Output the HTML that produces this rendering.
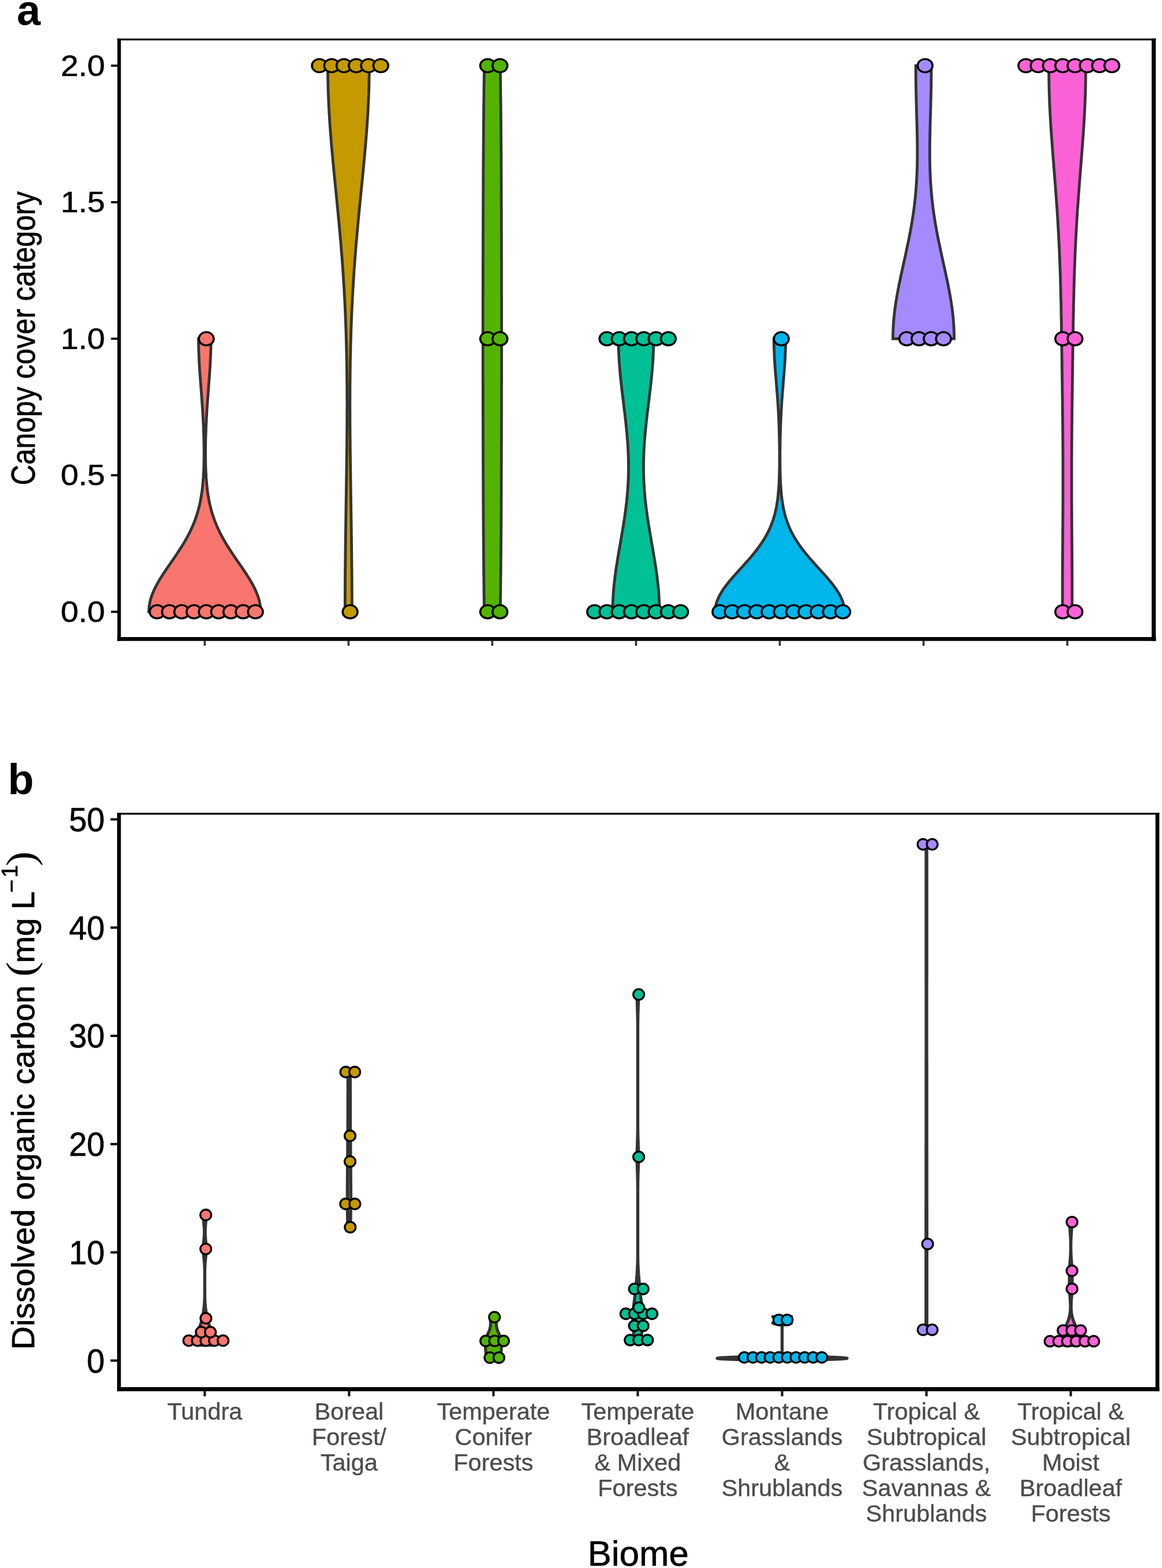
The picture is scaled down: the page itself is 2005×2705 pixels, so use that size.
<!DOCTYPE html>
<html lang="en"><head><meta charset="utf-8"><title>Canopy cover and dissolved organic carbon by biome</title>
<style>html,body{margin:0;padding:0;background:#fff}svg{display:block}</style></head>
<body><svg width="2005" height="2705" viewBox="0 0 2005 2705">
<rect width="2005" height="2705" fill="#fff"/>
<g id="violins-a" stroke="#333333" stroke-width="4.8" stroke-linejoin="miter">
<path d="M256.8 1055.4L256.9 1053.0L257.0 1050.7L257.2 1048.3L257.4 1045.9L257.8 1043.6L258.2 1041.2L258.7 1038.8L259.2 1036.5L259.8 1034.1L260.5 1031.7L261.3 1029.4L262.1 1027.0L263.0 1024.6L264.0 1022.3L265.0 1019.9L266.0 1017.5L267.2 1015.2L268.3 1012.8L269.6 1010.4L270.8 1008.1L272.1 1005.7L273.5 1003.3L274.9 1001.0L276.3 998.6L277.8 996.2L279.3 993.9L280.8 991.5L282.3 989.1L283.9 986.8L285.5 984.4L287.1 982.0L288.7 979.7L290.3 977.3L292.0 974.9L293.6 972.6L295.2 970.2L296.9 967.8L298.5 965.5L300.1 963.1L301.7 960.7L303.4 958.3L304.9 956.0L306.5 953.6L308.1 951.2L309.6 948.9L311.2 946.5L312.7 944.1L314.2 941.8L315.6 939.4L317.1 937.0L318.5 934.7L319.8 932.3L321.2 929.9L322.5 927.6L323.8 925.2L325.0 922.8L326.3 920.5L327.5 918.1L328.6 915.7L329.7 913.4L330.8 911.0L331.9 908.6L332.9 906.3L333.9 903.9L334.8 901.5L335.8 899.2L336.7 896.8L337.5 894.4L338.3 892.1L339.1 889.7L339.9 887.3L340.6 885.0L341.3 882.6L342.0 880.2L342.6 877.9L343.2 875.5L343.8 873.1L344.4 870.8L344.9 868.4L345.4 866.0L345.9 863.7L346.3 861.3L346.7 858.9L347.2 856.6L347.5 854.2L347.9 851.8L348.2 849.5L348.6 847.1L348.9 844.7L349.2 842.4L349.4 840.0L349.7 837.6L349.9 835.3L350.1 832.9L350.3 830.5L350.5 828.2L350.7 825.8L350.9 823.4L351.0 821.1L351.1 818.7L351.3 816.3L351.4 814.0L351.5 811.6L351.6 809.2L351.7 806.9L351.8 804.5L351.8 802.1L351.9 799.8L351.9 797.4L352.0 795.0L352.0 792.7L352.0 790.3L352.1 787.9L352.1 785.6L352.1 783.2L352.1 780.8L352.1 778.5L352.1 776.1L352.0 773.7L352.0 771.3L352.0 769.0L352.0 766.6L351.9 764.2L351.9 761.9L351.8 759.5L351.8 757.1L351.7 754.8L351.7 752.4L351.6 750.0L351.5 747.7L351.4 745.3L351.3 742.9L351.3 740.6L351.2 738.2L351.1 735.8L351.0 733.5L350.9 731.1L350.7 728.7L350.6 726.4L350.5 724.0L350.4 721.6L350.3 719.3L350.1 716.9L350.0 714.5L349.9 712.2L349.7 709.8L349.6 707.4L349.4 705.1L349.3 702.7L349.1 700.3L348.9 698.0L348.8 695.6L348.6 693.2L348.4 690.9L348.3 688.5L348.1 686.1L347.9 683.8L347.7 681.4L347.6 679.0L347.4 676.7L347.2 674.3L347.0 671.9L346.8 669.6L346.7 667.2L346.5 664.8L346.3 662.5L346.1 660.1L345.9 657.7L345.8 655.4L345.6 653.0L345.4 650.6L345.2 648.3L345.1 645.9L344.9 643.5L344.7 641.2L344.6 638.8L344.4 636.4L344.3 634.1L344.1 631.7L344.0 629.3L343.9 627.0L343.7 624.6L343.6 622.2L343.5 619.9L343.4 617.5L343.3 615.1L343.2 612.8L343.1 610.4L343.0 608.0L342.9 605.7L342.8 603.3L342.8 600.9L342.7 598.6L342.7 596.2L342.6 593.8L342.6 591.5L342.6 589.1L342.6 586.7L342.6 584.4L364.0 584.4L364.0 586.7L364.0 589.1L364.0 591.5L364.0 593.8L363.9 596.2L363.9 598.6L363.8 600.9L363.8 603.3L363.7 605.7L363.6 608.0L363.5 610.4L363.4 612.8L363.3 615.1L363.2 617.5L363.1 619.9L363.0 622.2L362.9 624.6L362.7 627.0L362.6 629.3L362.5 631.7L362.3 634.1L362.2 636.4L362.0 638.8L361.9 641.2L361.7 643.5L361.5 645.9L361.4 648.3L361.2 650.6L361.0 653.0L360.8 655.4L360.7 657.7L360.5 660.1L360.3 662.5L360.1 664.8L359.9 667.2L359.8 669.6L359.6 671.9L359.4 674.3L359.2 676.7L359.0 679.0L358.9 681.4L358.7 683.8L358.5 686.1L358.3 688.5L358.2 690.9L358.0 693.2L357.8 695.6L357.7 698.0L357.5 700.3L357.3 702.7L357.2 705.1L357.0 707.4L356.9 709.8L356.7 712.2L356.6 714.5L356.5 716.9L356.3 719.3L356.2 721.6L356.1 724.0L356.0 726.4L355.9 728.7L355.7 731.1L355.6 733.5L355.5 735.8L355.4 738.2L355.3 740.6L355.3 742.9L355.2 745.3L355.1 747.7L355.0 750.0L354.9 752.4L354.9 754.8L354.8 757.1L354.8 759.5L354.7 761.9L354.7 764.2L354.6 766.6L354.6 769.0L354.6 771.3L354.6 773.7L354.5 776.1L354.5 778.5L354.5 780.8L354.5 783.2L354.5 785.6L354.5 787.9L354.6 790.3L354.6 792.7L354.6 795.0L354.7 797.4L354.7 799.8L354.8 802.1L354.8 804.5L354.9 806.9L355.0 809.2L355.1 811.6L355.2 814.0L355.3 816.3L355.5 818.7L355.6 821.1L355.7 823.4L355.9 825.8L356.1 828.2L356.3 830.5L356.5 832.9L356.7 835.3L356.9 837.6L357.2 840.0L357.4 842.4L357.7 844.7L358.0 847.1L358.4 849.5L358.7 851.8L359.1 854.2L359.4 856.6L359.9 858.9L360.3 861.3L360.7 863.7L361.2 866.0L361.7 868.4L362.2 870.8L362.8 873.1L363.4 875.5L364.0 877.9L364.6 880.2L365.3 882.6L366.0 885.0L366.7 887.3L367.5 889.7L368.3 892.1L369.1 894.4L369.9 896.8L370.8 899.2L371.8 901.5L372.7 903.9L373.7 906.3L374.7 908.6L375.8 911.0L376.9 913.4L378.0 915.7L379.1 918.1L380.3 920.5L381.6 922.8L382.8 925.2L384.1 927.6L385.4 929.9L386.8 932.3L388.1 934.7L389.5 937.0L391.0 939.4L392.4 941.8L393.9 944.1L395.4 946.5L397.0 948.9L398.5 951.2L400.1 953.6L401.7 956.0L403.2 958.3L404.9 960.7L406.5 963.1L408.1 965.5L409.7 967.8L411.4 970.2L413.0 972.6L414.6 974.9L416.3 977.3L417.9 979.7L419.5 982.0L421.1 984.4L422.7 986.8L424.3 989.1L425.8 991.5L427.3 993.9L428.8 996.2L430.3 998.6L431.7 1001.0L433.1 1003.3L434.5 1005.7L435.8 1008.1L437.0 1010.4L438.3 1012.8L439.4 1015.2L440.6 1017.5L441.6 1019.9L442.6 1022.3L443.6 1024.6L444.5 1027.0L445.3 1029.4L446.1 1031.7L446.8 1034.1L447.4 1036.5L447.9 1038.8L448.4 1041.2L448.8 1043.6L449.2 1045.9L449.4 1048.3L449.6 1050.7L449.7 1053.0L449.8 1055.4Z" fill="#F8766D"/>
<path d="M595.4 1055.4L595.4 1050.7L595.4 1045.9L595.4 1041.2L595.4 1036.5L595.4 1031.7L595.4 1027.0L595.4 1022.3L595.5 1017.5L595.5 1012.8L595.5 1008.1L595.5 1003.3L595.6 998.6L595.6 993.9L595.6 989.1L595.7 984.4L595.7 979.7L595.8 974.9L595.8 970.2L595.9 965.5L595.9 960.7L596.0 956.0L596.0 951.2L596.1 946.5L596.1 941.8L596.2 937.0L596.2 932.3L596.3 927.6L596.4 922.8L596.4 918.1L596.5 913.4L596.6 908.6L596.6 903.9L596.7 899.2L596.8 894.4L596.8 889.7L596.9 885.0L597.0 880.2L597.0 875.5L597.1 870.8L597.2 866.0L597.3 861.3L597.3 856.6L597.4 851.8L597.5 847.1L597.5 842.4L597.6 837.6L597.7 832.9L597.7 828.2L597.8 823.4L597.9 818.7L597.9 814.0L598.0 809.2L598.1 804.5L598.1 799.8L598.2 795.0L598.2 790.3L598.3 785.6L598.4 780.8L598.4 776.1L598.5 771.3L598.5 766.6L598.5 761.9L598.6 757.1L598.6 752.4L598.7 747.7L598.7 742.9L598.7 738.2L598.8 733.5L598.8 728.7L598.8 724.0L598.8 719.3L598.8 714.5L598.8 709.8L598.9 705.1L598.9 700.3L598.9 695.6L598.9 690.9L598.8 686.1L598.8 681.4L598.8 676.7L598.8 671.9L598.8 667.2L598.7 662.5L598.7 657.7L598.6 653.0L598.6 648.3L598.5 643.5L598.5 638.8L598.4 634.1L598.4 629.3L598.3 624.6L598.2 619.9L598.1 615.1L598.0 610.4L597.9 605.7L597.8 600.9L597.7 596.2L597.6 591.5L597.4 586.7L597.3 582.0L597.2 577.2L597.0 572.5L596.9 567.8L596.7 563.0L596.5 558.3L596.4 553.6L596.2 548.8L596.0 544.1L595.8 539.4L595.6 534.6L595.3 529.9L595.1 525.2L594.9 520.4L594.7 515.7L594.4 511.0L594.1 506.2L593.9 501.5L593.6 496.8L593.3 492.0L593.0 487.3L592.7 482.6L592.4 477.8L592.1 473.1L591.8 468.4L591.5 463.6L591.1 458.9L590.8 454.2L590.4 449.4L590.1 444.7L589.7 440.0L589.3 435.2L588.9 430.5L588.6 425.8L588.2 421.0L587.8 416.3L587.3 411.6L586.9 406.8L586.5 402.1L586.1 397.4L585.6 392.6L585.2 387.9L584.8 383.1L584.3 378.4L583.9 373.7L583.4 368.9L583.0 364.2L582.5 359.5L582.0 354.7L581.6 350.0L581.1 345.3L580.6 340.5L580.2 335.8L579.7 331.1L579.2 326.3L578.7 321.6L578.3 316.9L577.8 312.1L577.3 307.4L576.9 302.7L576.4 297.9L575.9 293.2L575.5 288.5L575.0 283.7L574.6 279.0L574.2 274.3L573.7 269.5L573.3 264.8L572.9 260.1L572.4 255.3L572.0 250.6L571.6 245.9L571.3 241.1L570.9 236.4L570.5 231.7L570.1 226.9L569.8 222.2L569.4 217.5L569.1 212.7L568.8 208.0L568.5 203.2L568.2 198.5L567.9 193.8L567.7 189.0L567.4 184.3L567.2 179.6L567.0 174.8L566.8 170.1L566.6 165.4L566.4 160.6L566.2 155.9L566.1 151.2L566.0 146.4L565.9 141.7L565.8 137.0L565.7 132.2L565.6 127.5L565.6 122.8L565.6 118.0L565.6 113.3L637.1 113.3L637.1 118.0L637.1 122.8L637.1 127.5L637.0 132.2L636.9 137.0L636.8 141.7L636.7 146.4L636.6 151.2L636.5 155.9L636.3 160.6L636.1 165.4L635.9 170.1L635.7 174.8L635.5 179.6L635.3 184.3L635.0 189.0L634.8 193.8L634.5 198.5L634.2 203.2L633.9 208.0L633.6 212.7L633.3 217.5L632.9 222.2L632.6 226.9L632.2 231.7L631.8 236.4L631.4 241.1L631.1 245.9L630.7 250.6L630.3 255.3L629.8 260.1L629.4 264.8L629.0 269.5L628.5 274.3L628.1 279.0L627.7 283.7L627.2 288.5L626.8 293.2L626.3 297.9L625.8 302.7L625.4 307.4L624.9 312.1L624.4 316.9L624.0 321.6L623.5 326.3L623.0 331.1L622.5 335.8L622.1 340.5L621.6 345.3L621.1 350.0L620.7 354.7L620.2 359.5L619.7 364.2L619.3 368.9L618.8 373.7L618.4 378.4L617.9 383.1L617.5 387.9L617.1 392.6L616.6 397.4L616.2 402.1L615.8 406.8L615.4 411.6L614.9 416.3L614.5 421.0L614.1 425.8L613.8 430.5L613.4 435.2L613.0 440.0L612.6 444.7L612.3 449.4L611.9 454.2L611.6 458.9L611.2 463.6L610.9 468.4L610.6 473.1L610.3 477.8L610.0 482.6L609.7 487.3L609.4 492.0L609.1 496.8L608.8 501.5L608.6 506.2L608.3 511.0L608.0 515.7L607.8 520.4L607.6 525.2L607.4 529.9L607.1 534.6L606.9 539.4L606.7 544.1L606.5 548.8L606.3 553.6L606.2 558.3L606.0 563.0L605.8 567.8L605.7 572.5L605.5 577.2L605.4 582.0L605.3 586.7L605.1 591.5L605.0 596.2L604.9 600.9L604.8 605.7L604.7 610.4L604.6 615.1L604.5 619.9L604.4 624.6L604.3 629.3L604.3 634.1L604.2 638.8L604.2 643.5L604.1 648.3L604.1 653.0L604.0 657.7L604.0 662.5L603.9 667.2L603.9 671.9L603.9 676.7L603.9 681.4L603.9 686.1L603.8 690.9L603.8 695.6L603.8 700.3L603.8 705.1L603.9 709.8L603.9 714.5L603.9 719.3L603.9 724.0L603.9 728.7L603.9 733.5L604.0 738.2L604.0 742.9L604.0 747.7L604.1 752.4L604.1 757.1L604.2 761.9L604.2 766.6L604.2 771.3L604.3 776.1L604.3 780.8L604.4 785.6L604.5 790.3L604.5 795.0L604.6 799.8L604.6 804.5L604.7 809.2L604.8 814.0L604.8 818.7L604.9 823.4L605.0 828.2L605.0 832.9L605.1 837.6L605.2 842.4L605.2 847.1L605.3 851.8L605.4 856.6L605.4 861.3L605.5 866.0L605.6 870.8L605.7 875.5L605.7 880.2L605.8 885.0L605.9 889.7L605.9 894.4L606.0 899.2L606.1 903.9L606.1 908.6L606.2 913.4L606.3 918.1L606.3 922.8L606.4 927.6L606.5 932.3L606.5 937.0L606.6 941.8L606.6 946.5L606.7 951.2L606.7 956.0L606.8 960.7L606.8 965.5L606.9 970.2L606.9 974.9L607.0 979.7L607.0 984.4L607.1 989.1L607.1 993.9L607.1 998.6L607.2 1003.3L607.2 1008.1L607.2 1012.8L607.2 1017.5L607.3 1022.3L607.3 1027.0L607.3 1031.7L607.3 1036.5L607.3 1041.2L607.3 1045.9L607.3 1050.7L607.3 1055.4Z" fill="#C49A00"/>
<path d="M835.6 1055.4L835.6 1050.7L835.5 1045.9L835.4 1041.2L835.3 1036.5L835.3 1031.7L835.2 1027.0L835.1 1022.3L835.1 1017.5L835.0 1012.8L835.0 1008.1L834.9 1003.3L834.9 998.6L834.8 993.9L834.7 989.1L834.7 984.4L834.6 979.7L834.6 974.9L834.6 970.2L834.5 965.5L834.5 960.7L834.4 956.0L834.4 951.2L834.4 946.5L834.3 941.8L834.3 937.0L834.3 932.3L834.2 927.6L834.2 922.8L834.2 918.1L834.1 913.4L834.1 908.6L834.1 903.9L834.0 899.2L834.0 894.4L834.0 889.7L834.0 885.0L833.9 880.2L833.9 875.5L833.9 870.8L833.9 866.0L833.9 861.3L833.8 856.6L833.8 851.8L833.8 847.1L833.8 842.4L833.8 837.6L833.8 832.9L833.7 828.2L833.7 823.4L833.7 818.7L833.7 814.0L833.7 809.2L833.7 804.5L833.6 799.8L833.6 795.0L833.6 790.3L833.6 785.6L833.6 780.8L833.6 776.1L833.6 771.3L833.6 766.6L833.5 761.9L833.5 757.1L833.5 752.4L833.5 747.7L833.5 742.9L833.5 738.2L833.5 733.5L833.5 728.7L833.5 724.0L833.4 719.3L833.4 714.5L833.4 709.8L833.4 705.1L833.4 700.3L833.4 695.6L833.4 690.9L833.4 686.1L833.4 681.4L833.4 676.7L833.4 671.9L833.4 667.2L833.4 662.5L833.3 657.7L833.3 653.0L833.3 648.3L833.3 643.5L833.3 638.8L833.3 634.1L833.3 629.3L833.3 624.6L833.3 619.9L833.3 615.1L833.3 610.4L833.3 605.7L833.3 600.9L833.3 596.2L833.3 591.5L833.3 586.7L833.3 582.0L833.3 577.2L833.3 572.5L833.3 567.8L833.3 563.0L833.3 558.3L833.3 553.6L833.3 548.8L833.3 544.1L833.3 539.4L833.3 534.6L833.3 529.9L833.3 525.2L833.3 520.4L833.3 515.7L833.3 511.0L833.4 506.2L833.4 501.5L833.4 496.8L833.4 492.0L833.4 487.3L833.4 482.6L833.4 477.8L833.4 473.1L833.4 468.4L833.4 463.6L833.4 458.9L833.4 454.2L833.4 449.4L833.5 444.7L833.5 440.0L833.5 435.2L833.5 430.5L833.5 425.8L833.5 421.0L833.5 416.3L833.5 411.6L833.5 406.8L833.6 402.1L833.6 397.4L833.6 392.6L833.6 387.9L833.6 383.1L833.6 378.4L833.6 373.7L833.6 368.9L833.7 364.2L833.7 359.5L833.7 354.7L833.7 350.0L833.7 345.3L833.7 340.5L833.8 335.8L833.8 331.1L833.8 326.3L833.8 321.6L833.8 316.9L833.8 312.1L833.9 307.4L833.9 302.7L833.9 297.9L833.9 293.2L833.9 288.5L834.0 283.7L834.0 279.0L834.0 274.3L834.0 269.5L834.1 264.8L834.1 260.1L834.1 255.3L834.2 250.6L834.2 245.9L834.2 241.1L834.3 236.4L834.3 231.7L834.3 226.9L834.4 222.2L834.4 217.5L834.4 212.7L834.5 208.0L834.5 203.2L834.6 198.5L834.6 193.8L834.6 189.0L834.7 184.3L834.7 179.6L834.8 174.8L834.9 170.1L834.9 165.4L835.0 160.6L835.0 155.9L835.1 151.2L835.1 146.4L835.2 141.7L835.3 137.0L835.3 132.2L835.4 127.5L835.5 122.8L835.6 118.0L835.6 113.3L863.2 113.3L863.2 118.0L863.3 122.8L863.4 127.5L863.5 132.2L863.5 137.0L863.6 141.7L863.7 146.4L863.7 151.2L863.8 155.9L863.8 160.6L863.9 165.4L863.9 170.1L864.0 174.8L864.1 179.6L864.1 184.3L864.2 189.0L864.2 193.8L864.2 198.5L864.3 203.2L864.3 208.0L864.4 212.7L864.4 217.5L864.4 222.2L864.5 226.9L864.5 231.7L864.5 236.4L864.6 241.1L864.6 245.9L864.6 250.6L864.7 255.3L864.7 260.1L864.7 264.8L864.8 269.5L864.8 274.3L864.8 279.0L864.8 283.7L864.9 288.5L864.9 293.2L864.9 297.9L864.9 302.7L864.9 307.4L865.0 312.1L865.0 316.9L865.0 321.6L865.0 326.3L865.0 331.1L865.0 335.8L865.1 340.5L865.1 345.3L865.1 350.0L865.1 354.7L865.1 359.5L865.1 364.2L865.2 368.9L865.2 373.7L865.2 378.4L865.2 383.1L865.2 387.9L865.2 392.6L865.2 397.4L865.2 402.1L865.3 406.8L865.3 411.6L865.3 416.3L865.3 421.0L865.3 425.8L865.3 430.5L865.3 435.2L865.3 440.0L865.3 444.7L865.4 449.4L865.4 454.2L865.4 458.9L865.4 463.6L865.4 468.4L865.4 473.1L865.4 477.8L865.4 482.6L865.4 487.3L865.4 492.0L865.4 496.8L865.4 501.5L865.4 506.2L865.5 511.0L865.5 515.7L865.5 520.4L865.5 525.2L865.5 529.9L865.5 534.6L865.5 539.4L865.5 544.1L865.5 548.8L865.5 553.6L865.5 558.3L865.5 563.0L865.5 567.8L865.5 572.5L865.5 577.2L865.5 582.0L865.5 586.7L865.5 591.5L865.5 596.2L865.5 600.9L865.5 605.7L865.5 610.4L865.5 615.1L865.5 619.9L865.5 624.6L865.5 629.3L865.5 634.1L865.5 638.8L865.5 643.5L865.5 648.3L865.5 653.0L865.5 657.7L865.4 662.5L865.4 667.2L865.4 671.9L865.4 676.7L865.4 681.4L865.4 686.1L865.4 690.9L865.4 695.6L865.4 700.3L865.4 705.1L865.4 709.8L865.4 714.5L865.4 719.3L865.3 724.0L865.3 728.7L865.3 733.5L865.3 738.2L865.3 742.9L865.3 747.7L865.3 752.4L865.3 757.1L865.3 761.9L865.2 766.6L865.2 771.3L865.2 776.1L865.2 780.8L865.2 785.6L865.2 790.3L865.2 795.0L865.2 799.8L865.1 804.5L865.1 809.2L865.1 814.0L865.1 818.7L865.1 823.4L865.1 828.2L865.0 832.9L865.0 837.6L865.0 842.4L865.0 847.1L865.0 851.8L865.0 856.6L864.9 861.3L864.9 866.0L864.9 870.8L864.9 875.5L864.9 880.2L864.8 885.0L864.8 889.7L864.8 894.4L864.8 899.2L864.7 903.9L864.7 908.6L864.7 913.4L864.6 918.1L864.6 922.8L864.6 927.6L864.5 932.3L864.5 937.0L864.5 941.8L864.4 946.5L864.4 951.2L864.4 956.0L864.3 960.7L864.3 965.5L864.2 970.2L864.2 974.9L864.2 979.7L864.1 984.4L864.1 989.1L864.0 993.9L863.9 998.6L863.9 1003.3L863.8 1008.1L863.8 1012.8L863.7 1017.5L863.7 1022.3L863.6 1027.0L863.5 1031.7L863.5 1036.5L863.4 1041.2L863.3 1045.9L863.2 1050.7L863.2 1055.4Z" fill="#53B400"/>
<path d="M1057.1 1055.4L1057.1 1053.0L1057.1 1050.7L1057.1 1048.3L1057.2 1045.9L1057.2 1043.6L1057.3 1041.2L1057.4 1038.8L1057.5 1036.5L1057.6 1034.1L1057.7 1031.7L1057.9 1029.4L1058.0 1027.0L1058.2 1024.6L1058.3 1022.3L1058.5 1019.9L1058.7 1017.5L1058.9 1015.2L1059.2 1012.8L1059.4 1010.4L1059.6 1008.1L1059.9 1005.7L1060.1 1003.3L1060.4 1001.0L1060.7 998.6L1061.0 996.2L1061.3 993.9L1061.6 991.5L1061.9 989.1L1062.3 986.8L1062.6 984.4L1062.9 982.0L1063.3 979.7L1063.6 977.3L1064.0 974.9L1064.4 972.6L1064.7 970.2L1065.1 967.8L1065.5 965.5L1065.9 963.1L1066.3 960.7L1066.7 958.3L1067.1 956.0L1067.5 953.6L1067.9 951.2L1068.3 948.9L1068.7 946.5L1069.1 944.1L1069.5 941.8L1070.0 939.4L1070.4 937.0L1070.8 934.7L1071.2 932.3L1071.6 929.9L1072.0 927.6L1072.4 925.2L1072.8 922.8L1073.2 920.5L1073.6 918.1L1074.0 915.7L1074.4 913.4L1074.8 911.0L1075.2 908.6L1075.6 906.3L1076.0 903.9L1076.3 901.5L1076.7 899.2L1077.1 896.8L1077.4 894.4L1077.8 892.1L1078.1 889.7L1078.4 887.3L1078.8 885.0L1079.1 882.6L1079.4 880.2L1079.7 877.9L1080.0 875.5L1080.3 873.1L1080.6 870.8L1080.9 868.4L1081.1 866.0L1081.4 863.7L1081.6 861.3L1081.9 858.9L1082.1 856.6L1082.3 854.2L1082.5 851.8L1082.7 849.5L1082.9 847.1L1083.1 844.7L1083.2 842.4L1083.4 840.0L1083.5 837.6L1083.7 835.3L1083.8 832.9L1083.9 830.5L1084.0 828.2L1084.1 825.8L1084.2 823.4L1084.3 821.1L1084.3 818.7L1084.4 816.3L1084.4 814.0L1084.5 811.6L1084.5 809.2L1084.5 806.9L1084.5 804.5L1084.5 802.1L1084.5 799.8L1084.4 797.4L1084.4 795.0L1084.4 792.7L1084.3 790.3L1084.2 787.9L1084.1 785.6L1084.1 783.2L1084.0 780.8L1083.8 778.5L1083.7 776.1L1083.6 773.7L1083.5 771.3L1083.3 769.0L1083.2 766.6L1083.0 764.2L1082.9 761.9L1082.7 759.5L1082.5 757.1L1082.3 754.8L1082.1 752.4L1081.9 750.0L1081.7 747.7L1081.5 745.3L1081.2 742.9L1081.0 740.6L1080.8 738.2L1080.5 735.8L1080.3 733.5L1080.0 731.1L1079.8 728.7L1079.5 726.4L1079.3 724.0L1079.0 721.6L1078.7 719.3L1078.4 716.9L1078.2 714.5L1077.9 712.2L1077.6 709.8L1077.3 707.4L1077.0 705.1L1076.7 702.7L1076.4 700.3L1076.2 698.0L1075.9 695.6L1075.6 693.2L1075.3 690.9L1075.0 688.5L1074.7 686.1L1074.4 683.8L1074.1 681.4L1073.8 679.0L1073.6 676.7L1073.3 674.3L1073.0 671.9L1072.7 669.6L1072.5 667.2L1072.2 664.8L1071.9 662.5L1071.7 660.1L1071.4 657.7L1071.2 655.4L1070.9 653.0L1070.7 650.6L1070.5 648.3L1070.2 645.9L1070.0 643.5L1069.8 641.2L1069.6 638.8L1069.4 636.4L1069.2 634.1L1069.0 631.7L1068.8 629.3L1068.7 627.0L1068.5 624.6L1068.3 622.2L1068.2 619.9L1068.1 617.5L1067.9 615.1L1067.8 612.8L1067.7 610.4L1067.6 608.0L1067.5 605.7L1067.4 603.3L1067.4 600.9L1067.3 598.6L1067.3 596.2L1067.2 593.8L1067.2 591.5L1067.2 589.1L1067.1 586.7L1067.1 584.4L1127.8 584.4L1127.8 586.7L1127.7 589.1L1127.7 591.5L1127.7 593.8L1127.6 596.2L1127.6 598.6L1127.5 600.9L1127.5 603.3L1127.4 605.7L1127.3 608.0L1127.2 610.4L1127.1 612.8L1127.0 615.1L1126.8 617.5L1126.7 619.9L1126.6 622.2L1126.4 624.6L1126.2 627.0L1126.1 629.3L1125.9 631.7L1125.7 634.1L1125.5 636.4L1125.3 638.8L1125.1 641.2L1124.9 643.5L1124.7 645.9L1124.4 648.3L1124.2 650.6L1124.0 653.0L1123.7 655.4L1123.5 657.7L1123.2 660.1L1123.0 662.5L1122.7 664.8L1122.4 667.2L1122.2 669.6L1121.9 671.9L1121.6 674.3L1121.3 676.7L1121.1 679.0L1120.8 681.4L1120.5 683.8L1120.2 686.1L1119.9 688.5L1119.6 690.9L1119.3 693.2L1119.0 695.6L1118.7 698.0L1118.5 700.3L1118.2 702.7L1117.9 705.1L1117.6 707.4L1117.3 709.8L1117.0 712.2L1116.7 714.5L1116.5 716.9L1116.2 719.3L1115.9 721.6L1115.6 724.0L1115.4 726.4L1115.1 728.7L1114.9 731.1L1114.6 733.5L1114.4 735.8L1114.1 738.2L1113.9 740.6L1113.7 742.9L1113.4 745.3L1113.2 747.7L1113.0 750.0L1112.8 752.4L1112.6 754.8L1112.4 757.1L1112.2 759.5L1112.0 761.9L1111.9 764.2L1111.7 766.6L1111.6 769.0L1111.4 771.3L1111.3 773.7L1111.2 776.1L1111.1 778.5L1110.9 780.8L1110.8 783.2L1110.8 785.6L1110.7 787.9L1110.6 790.3L1110.5 792.7L1110.5 795.0L1110.5 797.4L1110.4 799.8L1110.4 802.1L1110.4 804.5L1110.4 806.9L1110.4 809.2L1110.4 811.6L1110.5 814.0L1110.5 816.3L1110.6 818.7L1110.6 821.1L1110.7 823.4L1110.8 825.8L1110.9 828.2L1111.0 830.5L1111.1 832.9L1111.2 835.3L1111.4 837.6L1111.5 840.0L1111.7 842.4L1111.8 844.7L1112.0 847.1L1112.2 849.5L1112.4 851.8L1112.6 854.2L1112.8 856.6L1113.0 858.9L1113.3 861.3L1113.5 863.7L1113.8 866.0L1114.0 868.4L1114.3 870.8L1114.6 873.1L1114.9 875.5L1115.2 877.9L1115.5 880.2L1115.8 882.6L1116.1 885.0L1116.5 887.3L1116.8 889.7L1117.1 892.1L1117.5 894.4L1117.8 896.8L1118.2 899.2L1118.6 901.5L1118.9 903.9L1119.3 906.3L1119.7 908.6L1120.1 911.0L1120.5 913.4L1120.9 915.7L1121.3 918.1L1121.7 920.5L1122.1 922.8L1122.5 925.2L1122.9 927.6L1123.3 929.9L1123.7 932.3L1124.1 934.7L1124.5 937.0L1124.9 939.4L1125.4 941.8L1125.8 944.1L1126.2 946.5L1126.6 948.9L1127.0 951.2L1127.4 953.6L1127.8 956.0L1128.2 958.3L1128.6 960.7L1129.0 963.1L1129.4 965.5L1129.8 967.8L1130.2 970.2L1130.5 972.6L1130.9 974.9L1131.3 977.3L1131.6 979.7L1132.0 982.0L1132.3 984.4L1132.6 986.8L1133.0 989.1L1133.3 991.5L1133.6 993.9L1133.9 996.2L1134.2 998.6L1134.5 1001.0L1134.8 1003.3L1135.0 1005.7L1135.3 1008.1L1135.5 1010.4L1135.7 1012.8L1136.0 1015.2L1136.2 1017.5L1136.4 1019.9L1136.6 1022.3L1136.7 1024.6L1136.9 1027.0L1137.0 1029.4L1137.2 1031.7L1137.3 1034.1L1137.4 1036.5L1137.5 1038.8L1137.6 1041.2L1137.7 1043.6L1137.7 1045.9L1137.8 1048.3L1137.8 1050.7L1137.8 1053.0L1137.8 1055.4Z" fill="#00C094"/>
<path d="M1233.9 1055.4L1233.9 1053.0L1234.1 1050.7L1234.4 1048.3L1234.8 1045.9L1235.3 1043.6L1235.9 1041.2L1236.6 1038.8L1237.4 1036.5L1238.4 1034.1L1239.4 1031.7L1240.5 1029.4L1241.7 1027.0L1243.0 1024.6L1244.4 1022.3L1245.9 1019.9L1247.4 1017.5L1249.0 1015.2L1250.7 1012.8L1252.5 1010.4L1254.3 1008.1L1256.2 1005.7L1258.1 1003.3L1260.1 1001.0L1262.1 998.6L1264.1 996.2L1266.2 993.9L1268.3 991.5L1270.4 989.1L1272.5 986.8L1274.7 984.4L1276.8 982.0L1279.0 979.7L1281.1 977.3L1283.3 974.9L1285.4 972.6L1287.5 970.2L1289.6 967.8L1291.7 965.5L1293.8 963.1L1295.8 960.7L1297.8 958.3L1299.7 956.0L1301.7 953.6L1303.5 951.2L1305.4 948.9L1307.2 946.5L1308.9 944.1L1310.7 941.8L1312.3 939.4L1313.9 937.0L1315.5 934.7L1317.0 932.3L1318.5 929.9L1319.9 927.6L1321.3 925.2L1322.6 922.8L1323.9 920.5L1325.1 918.1L1326.3 915.7L1327.4 913.4L1328.5 911.0L1329.5 908.6L1330.5 906.3L1331.4 903.9L1332.3 901.5L1333.1 899.2L1334.0 896.8L1334.7 894.4L1335.4 892.1L1336.1 889.7L1336.8 887.3L1337.4 885.0L1337.9 882.6L1338.5 880.2L1339.0 877.9L1339.5 875.5L1339.9 873.1L1340.3 870.8L1340.7 868.4L1341.1 866.0L1341.4 863.7L1341.8 861.3L1342.1 858.9L1342.3 856.6L1342.6 854.2L1342.8 851.8L1343.0 849.5L1343.3 847.1L1343.4 844.7L1343.6 842.4L1343.8 840.0L1343.9 837.6L1344.1 835.3L1344.2 832.9L1344.3 830.5L1344.4 828.2L1344.5 825.8L1344.6 823.4L1344.6 821.1L1344.7 818.7L1344.8 816.3L1344.8 814.0L1344.9 811.6L1344.9 809.2L1345.0 806.9L1345.0 804.5L1345.0 802.1L1345.0 799.8L1345.1 797.4L1345.1 795.0L1345.1 792.7L1345.1 790.3L1345.1 787.9L1345.1 785.6L1345.1 783.2L1345.1 780.8L1345.1 778.5L1345.0 776.1L1345.0 773.7L1345.0 771.3L1345.0 769.0L1344.9 766.6L1344.9 764.2L1344.9 761.9L1344.8 759.5L1344.8 757.1L1344.7 754.8L1344.7 752.4L1344.6 750.0L1344.6 747.7L1344.5 745.3L1344.4 742.9L1344.4 740.6L1344.3 738.2L1344.2 735.8L1344.1 733.5L1344.0 731.1L1343.9 728.7L1343.8 726.4L1343.7 724.0L1343.6 721.6L1343.5 719.3L1343.4 716.9L1343.3 714.5L1343.2 712.2L1343.0 709.8L1342.9 707.4L1342.8 705.1L1342.6 702.7L1342.5 700.3L1342.3 698.0L1342.2 695.6L1342.0 693.2L1341.9 690.9L1341.7 688.5L1341.5 686.1L1341.3 683.8L1341.2 681.4L1341.0 679.0L1340.8 676.7L1340.6 674.3L1340.4 671.9L1340.2 669.6L1340.0 667.2L1339.8 664.8L1339.6 662.5L1339.5 660.1L1339.3 657.7L1339.1 655.4L1338.9 653.0L1338.7 650.6L1338.5 648.3L1338.3 645.9L1338.1 643.5L1337.9 641.2L1337.7 638.8L1337.6 636.4L1337.4 634.1L1337.2 631.7L1337.0 629.3L1336.9 627.0L1336.7 624.6L1336.6 622.2L1336.4 619.9L1336.3 617.5L1336.2 615.1L1336.1 612.8L1336.0 610.4L1335.9 608.0L1335.8 605.7L1335.7 603.3L1335.6 600.9L1335.5 598.6L1335.5 596.2L1335.4 593.8L1335.4 591.5L1335.4 589.1L1335.4 586.7L1335.4 584.4L1355.6 584.4L1355.6 586.7L1355.6 589.1L1355.6 591.5L1355.6 593.8L1355.5 596.2L1355.5 598.6L1355.4 600.9L1355.3 603.3L1355.2 605.7L1355.1 608.0L1355.0 610.4L1354.9 612.8L1354.8 615.1L1354.7 617.5L1354.6 619.9L1354.4 622.2L1354.3 624.6L1354.1 627.0L1354.0 629.3L1353.8 631.7L1353.6 634.1L1353.4 636.4L1353.3 638.8L1353.1 641.2L1352.9 643.5L1352.7 645.9L1352.5 648.3L1352.3 650.6L1352.1 653.0L1351.9 655.4L1351.7 657.7L1351.5 660.1L1351.4 662.5L1351.2 664.8L1351.0 667.2L1350.8 669.6L1350.6 671.9L1350.4 674.3L1350.2 676.7L1350.0 679.0L1349.8 681.4L1349.7 683.8L1349.5 686.1L1349.3 688.5L1349.1 690.9L1349.0 693.2L1348.8 695.6L1348.7 698.0L1348.5 700.3L1348.4 702.7L1348.2 705.1L1348.1 707.4L1348.0 709.8L1347.8 712.2L1347.7 714.5L1347.6 716.9L1347.5 719.3L1347.4 721.6L1347.3 724.0L1347.2 726.4L1347.1 728.7L1347.0 731.1L1346.9 733.5L1346.8 735.8L1346.7 738.2L1346.6 740.6L1346.6 742.9L1346.5 745.3L1346.4 747.7L1346.4 750.0L1346.3 752.4L1346.3 754.8L1346.2 757.1L1346.2 759.5L1346.1 761.9L1346.1 764.2L1346.1 766.6L1346.0 769.0L1346.0 771.3L1346.0 773.7L1346.0 776.1L1345.9 778.5L1345.9 780.8L1345.9 783.2L1345.9 785.6L1345.9 787.9L1345.9 790.3L1345.9 792.7L1345.9 795.0L1345.9 797.4L1346.0 799.8L1346.0 802.1L1346.0 804.5L1346.0 806.9L1346.1 809.2L1346.1 811.6L1346.2 814.0L1346.2 816.3L1346.3 818.7L1346.4 821.1L1346.4 823.4L1346.5 825.8L1346.6 828.2L1346.7 830.5L1346.8 832.9L1346.9 835.3L1347.1 837.6L1347.2 840.0L1347.4 842.4L1347.6 844.7L1347.7 847.1L1348.0 849.5L1348.2 851.8L1348.4 854.2L1348.7 856.6L1348.9 858.9L1349.2 861.3L1349.6 863.7L1349.9 866.0L1350.3 868.4L1350.7 870.8L1351.1 873.1L1351.5 875.5L1352.0 877.9L1352.5 880.2L1353.1 882.6L1353.6 885.0L1354.2 887.3L1354.9 889.7L1355.6 892.1L1356.3 894.4L1357.0 896.8L1357.9 899.2L1358.7 901.5L1359.6 903.9L1360.5 906.3L1361.5 908.6L1362.5 911.0L1363.6 913.4L1364.7 915.7L1365.9 918.1L1367.1 920.5L1368.4 922.8L1369.7 925.2L1371.1 927.6L1372.5 929.9L1374.0 932.3L1375.5 934.7L1377.1 937.0L1378.7 939.4L1380.3 941.8L1382.1 944.1L1383.8 946.5L1385.6 948.9L1387.5 951.2L1389.3 953.6L1391.3 956.0L1393.2 958.3L1395.2 960.7L1397.2 963.1L1399.3 965.5L1401.4 967.8L1403.5 970.2L1405.6 972.6L1407.7 974.9L1409.9 977.3L1412.0 979.7L1414.2 982.0L1416.3 984.4L1418.5 986.8L1420.6 989.1L1422.7 991.5L1424.8 993.9L1426.9 996.2L1428.9 998.6L1430.9 1001.0L1432.9 1003.3L1434.8 1005.7L1436.7 1008.1L1438.5 1010.4L1440.3 1012.8L1442.0 1015.2L1443.6 1017.5L1445.1 1019.9L1446.6 1022.3L1448.0 1024.6L1449.3 1027.0L1450.5 1029.4L1451.6 1031.7L1452.6 1034.1L1453.6 1036.5L1454.4 1038.8L1455.1 1041.2L1455.7 1043.6L1456.2 1045.9L1456.6 1048.3L1456.9 1050.7L1457.1 1053.0L1457.1 1055.4Z" fill="#00B6EB"/>
<path d="M1540.7 584.4L1540.7 582.0L1540.8 579.6L1540.8 577.2L1540.8 574.9L1540.9 572.5L1541.0 570.1L1541.1 567.8L1541.2 565.4L1541.3 563.0L1541.5 560.7L1541.6 558.3L1541.8 555.9L1542.0 553.6L1542.2 551.2L1542.4 548.8L1542.6 546.5L1542.9 544.1L1543.1 541.7L1543.4 539.4L1543.7 537.0L1544.0 534.6L1544.3 532.3L1544.6 529.9L1545.0 527.5L1545.3 525.2L1545.6 522.8L1546.0 520.4L1546.4 518.1L1546.8 515.7L1547.2 513.3L1547.6 511.0L1548.0 508.6L1548.4 506.2L1548.9 503.9L1549.3 501.5L1549.7 499.1L1550.2 496.8L1550.7 494.4L1551.1 492.0L1551.6 489.7L1552.1 487.3L1552.6 484.9L1553.1 482.6L1553.6 480.2L1554.1 477.8L1554.6 475.5L1555.1 473.1L1555.6 470.7L1556.1 468.4L1556.6 466.0L1557.2 463.6L1557.7 461.3L1558.2 458.9L1558.7 456.5L1559.2 454.2L1559.8 451.8L1560.3 449.4L1560.8 447.1L1561.3 444.7L1561.9 442.3L1562.4 440.0L1562.9 437.6L1563.4 435.2L1563.9 432.9L1564.4 430.5L1564.9 428.1L1565.4 425.8L1565.9 423.4L1566.4 421.0L1566.9 418.7L1567.4 416.3L1567.9 413.9L1568.4 411.6L1568.8 409.2L1569.3 406.8L1569.7 404.5L1570.2 402.1L1570.6 399.7L1571.1 397.4L1571.5 395.0L1571.9 392.6L1572.4 390.2L1572.8 387.9L1573.2 385.5L1573.6 383.1L1573.9 380.8L1574.3 378.4L1574.7 376.0L1575.1 373.7L1575.4 371.3L1575.8 368.9L1576.1 366.6L1576.4 364.2L1576.8 361.8L1577.1 359.5L1577.4 357.1L1577.7 354.7L1577.9 352.4L1578.2 350.0L1578.5 347.6L1578.8 345.3L1579.0 342.9L1579.3 340.5L1579.5 338.2L1579.7 335.8L1579.9 333.4L1580.1 331.1L1580.3 328.7L1580.5 326.3L1580.7 324.0L1580.9 321.6L1581.0 319.2L1581.2 316.9L1581.4 314.5L1581.5 312.1L1581.6 309.8L1581.8 307.4L1581.9 305.0L1582.0 302.7L1582.1 300.3L1582.2 297.9L1582.3 295.6L1582.4 293.2L1582.4 290.8L1582.5 288.5L1582.6 286.1L1582.6 283.7L1582.7 281.4L1582.7 279.0L1582.7 276.6L1582.8 274.3L1582.8 271.9L1582.8 269.5L1582.8 267.2L1582.8 264.8L1582.8 262.4L1582.8 260.1L1582.8 257.7L1582.8 255.3L1582.8 253.0L1582.8 250.6L1582.8 248.2L1582.7 245.9L1582.7 243.5L1582.7 241.1L1582.6 238.8L1582.6 236.4L1582.5 234.0L1582.5 231.7L1582.4 229.3L1582.4 226.9L1582.3 224.6L1582.3 222.2L1582.2 219.8L1582.2 217.5L1582.1 215.1L1582.0 212.7L1582.0 210.4L1581.9 208.0L1581.8 205.6L1581.8 203.2L1581.7 200.9L1581.6 198.5L1581.6 196.1L1581.5 193.8L1581.4 191.4L1581.4 189.0L1581.3 186.7L1581.2 184.3L1581.2 181.9L1581.1 179.6L1581.1 177.2L1581.0 174.8L1580.9 172.5L1580.9 170.1L1580.8 167.7L1580.8 165.4L1580.7 163.0L1580.7 160.6L1580.6 158.3L1580.6 155.9L1580.5 153.5L1580.5 151.2L1580.4 148.8L1580.4 146.4L1580.4 144.1L1580.3 141.7L1580.3 139.3L1580.3 137.0L1580.3 134.6L1580.2 132.2L1580.2 129.9L1580.2 127.5L1580.2 125.1L1580.2 122.8L1580.2 120.4L1580.2 118.0L1580.2 115.7L1580.2 113.3L1606.9 113.3L1606.9 115.7L1606.9 118.0L1606.9 120.4L1606.9 122.8L1606.9 125.1L1606.9 127.5L1606.9 129.9L1606.9 132.2L1606.8 134.6L1606.8 137.0L1606.8 139.3L1606.8 141.7L1606.7 144.1L1606.7 146.4L1606.7 148.8L1606.6 151.2L1606.6 153.5L1606.5 155.9L1606.5 158.3L1606.4 160.6L1606.4 163.0L1606.3 165.4L1606.3 167.7L1606.2 170.1L1606.2 172.5L1606.1 174.8L1606.0 177.2L1606.0 179.6L1605.9 181.9L1605.9 184.3L1605.8 186.7L1605.7 189.0L1605.7 191.4L1605.6 193.8L1605.5 196.1L1605.5 198.5L1605.4 200.9L1605.3 203.2L1605.3 205.6L1605.2 208.0L1605.1 210.4L1605.1 212.7L1605.0 215.1L1604.9 217.5L1604.9 219.8L1604.8 222.2L1604.8 224.6L1604.7 226.9L1604.7 229.3L1604.6 231.7L1604.6 234.0L1604.5 236.4L1604.5 238.8L1604.4 241.1L1604.4 243.5L1604.4 245.9L1604.3 248.2L1604.3 250.6L1604.3 253.0L1604.3 255.3L1604.3 257.7L1604.3 260.1L1604.3 262.4L1604.3 264.8L1604.3 267.2L1604.3 269.5L1604.3 271.9L1604.3 274.3L1604.4 276.6L1604.4 279.0L1604.4 281.4L1604.5 283.7L1604.5 286.1L1604.6 288.5L1604.7 290.8L1604.7 293.2L1604.8 295.6L1604.9 297.9L1605.0 300.3L1605.1 302.7L1605.2 305.0L1605.3 307.4L1605.5 309.8L1605.6 312.1L1605.7 314.5L1605.9 316.9L1606.1 319.2L1606.2 321.6L1606.4 324.0L1606.6 326.3L1606.8 328.7L1607.0 331.1L1607.2 333.4L1607.4 335.8L1607.6 338.2L1607.8 340.5L1608.1 342.9L1608.3 345.3L1608.6 347.6L1608.9 350.0L1609.2 352.4L1609.4 354.7L1609.7 357.1L1610.0 359.5L1610.3 361.8L1610.7 364.2L1611.0 366.6L1611.3 368.9L1611.7 371.3L1612.0 373.7L1612.4 376.0L1612.8 378.4L1613.2 380.8L1613.5 383.1L1613.9 385.5L1614.3 387.9L1614.7 390.2L1615.2 392.6L1615.6 395.0L1616.0 397.4L1616.5 399.7L1616.9 402.1L1617.4 404.5L1617.8 406.8L1618.3 409.2L1618.7 411.6L1619.2 413.9L1619.7 416.3L1620.2 418.7L1620.7 421.0L1621.2 423.4L1621.7 425.8L1622.2 428.1L1622.7 430.5L1623.2 432.9L1623.7 435.2L1624.2 437.6L1624.7 440.0L1625.2 442.3L1625.8 444.7L1626.3 447.1L1626.8 449.4L1627.3 451.8L1627.9 454.2L1628.4 456.5L1628.9 458.9L1629.4 461.3L1629.9 463.6L1630.5 466.0L1631.0 468.4L1631.5 470.7L1632.0 473.1L1632.5 475.5L1633.0 477.8L1633.5 480.2L1634.0 482.6L1634.5 484.9L1635.0 487.3L1635.5 489.7L1636.0 492.0L1636.4 494.4L1636.9 496.8L1637.4 499.1L1637.8 501.5L1638.2 503.9L1638.7 506.2L1639.1 508.6L1639.5 511.0L1639.9 513.3L1640.3 515.7L1640.7 518.1L1641.1 520.4L1641.5 522.8L1641.8 525.2L1642.1 527.5L1642.5 529.9L1642.8 532.3L1643.1 534.6L1643.4 537.0L1643.7 539.4L1644.0 541.7L1644.2 544.1L1644.5 546.5L1644.7 548.8L1644.9 551.2L1645.1 553.6L1645.3 555.9L1645.5 558.3L1645.6 560.7L1645.8 563.0L1645.9 565.4L1646.0 567.8L1646.1 570.1L1646.2 572.5L1646.3 574.9L1646.3 577.2L1646.3 579.6L1646.4 582.0L1646.4 584.4Z" fill="#A58AFF"/>
<path d="M1833.4 1055.4L1833.3 1050.7L1833.3 1045.9L1833.3 1041.2L1833.3 1036.5L1833.3 1031.7L1833.3 1027.0L1833.3 1022.3L1833.3 1017.5L1833.3 1012.8L1833.3 1008.1L1833.3 1003.3L1833.3 998.6L1833.3 993.9L1833.3 989.1L1833.4 984.4L1833.4 979.7L1833.4 974.9L1833.4 970.2L1833.5 965.5L1833.5 960.7L1833.5 956.0L1833.5 951.2L1833.6 946.5L1833.6 941.8L1833.6 937.0L1833.7 932.3L1833.7 927.6L1833.7 922.8L1833.8 918.1L1833.8 913.4L1833.8 908.6L1833.9 903.9L1833.9 899.2L1833.9 894.4L1833.9 889.7L1834.0 885.0L1834.0 880.2L1834.0 875.5L1834.0 870.8L1834.1 866.0L1834.1 861.3L1834.1 856.6L1834.1 851.8L1834.1 847.1L1834.1 842.4L1834.1 837.6L1834.1 832.9L1834.1 828.2L1834.1 823.4L1834.1 818.7L1834.1 814.0L1834.1 809.2L1834.1 804.5L1834.1 799.8L1834.1 795.0L1834.1 790.3L1834.0 785.6L1834.0 780.8L1834.0 776.1L1834.0 771.3L1833.9 766.6L1833.9 761.9L1833.9 757.1L1833.8 752.4L1833.8 747.7L1833.8 742.9L1833.7 738.2L1833.7 733.5L1833.6 728.7L1833.6 724.0L1833.5 719.3L1833.5 714.5L1833.4 709.8L1833.4 705.1L1833.3 700.3L1833.3 695.6L1833.2 690.9L1833.2 686.1L1833.1 681.4L1833.0 676.7L1833.0 671.9L1832.9 667.2L1832.9 662.5L1832.8 657.7L1832.7 653.0L1832.7 648.3L1832.6 643.5L1832.5 638.8L1832.5 634.1L1832.4 629.3L1832.4 624.6L1832.3 619.9L1832.2 615.1L1832.2 610.4L1832.1 605.7L1832.0 600.9L1832.0 596.2L1831.9 591.5L1831.8 586.7L1831.7 582.0L1831.7 577.2L1831.6 572.5L1831.5 567.8L1831.5 563.0L1831.4 558.3L1831.3 553.6L1831.2 548.8L1831.1 544.1L1831.0 539.4L1830.9 534.6L1830.9 529.9L1830.8 525.2L1830.7 520.4L1830.5 515.7L1830.4 511.0L1830.3 506.2L1830.2 501.5L1830.1 496.8L1830.0 492.0L1829.8 487.3L1829.7 482.6L1829.6 477.8L1829.4 473.1L1829.3 468.4L1829.1 463.6L1828.9 458.9L1828.7 454.2L1828.6 449.4L1828.4 444.7L1828.2 440.0L1828.0 435.2L1827.8 430.5L1827.6 425.8L1827.3 421.0L1827.1 416.3L1826.9 411.6L1826.6 406.8L1826.4 402.1L1826.1 397.4L1825.8 392.6L1825.6 387.9L1825.3 383.1L1825.0 378.4L1824.7 373.7L1824.4 368.9L1824.1 364.2L1823.8 359.5L1823.4 354.7L1823.1 350.0L1822.8 345.3L1822.4 340.5L1822.1 335.8L1821.7 331.1L1821.4 326.3L1821.0 321.6L1820.7 316.9L1820.3 312.1L1819.9 307.4L1819.6 302.7L1819.2 297.9L1818.8 293.2L1818.4 288.5L1818.1 283.7L1817.7 279.0L1817.3 274.3L1816.9 269.5L1816.6 264.8L1816.2 260.1L1815.9 255.3L1815.5 250.6L1815.2 245.9L1814.8 241.1L1814.5 236.4L1814.1 231.7L1813.8 226.9L1813.5 222.2L1813.2 217.5L1812.9 212.7L1812.6 208.0L1812.3 203.2L1812.1 198.5L1811.8 193.8L1811.6 189.0L1811.4 184.3L1811.1 179.6L1810.9 174.8L1810.8 170.1L1810.6 165.4L1810.4 160.6L1810.3 155.9L1810.2 151.2L1810.1 146.4L1810.0 141.7L1809.9 137.0L1809.9 132.2L1809.8 127.5L1809.8 122.8L1809.8 118.0L1809.8 113.3L1873.4 113.3L1873.4 118.0L1873.4 122.8L1873.4 127.5L1873.3 132.2L1873.3 137.0L1873.2 141.7L1873.1 146.4L1873.0 151.2L1872.9 155.9L1872.8 160.6L1872.6 165.4L1872.4 170.1L1872.3 174.8L1872.1 179.6L1871.8 184.3L1871.6 189.0L1871.4 193.8L1871.1 198.5L1870.9 203.2L1870.6 208.0L1870.3 212.7L1870.0 217.5L1869.7 222.2L1869.4 226.9L1869.1 231.7L1868.7 236.4L1868.4 241.1L1868.0 245.9L1867.7 250.6L1867.3 255.3L1867.0 260.1L1866.6 264.8L1866.3 269.5L1865.9 274.3L1865.5 279.0L1865.1 283.7L1864.8 288.5L1864.4 293.2L1864.0 297.9L1863.6 302.7L1863.3 307.4L1862.9 312.1L1862.5 316.9L1862.2 321.6L1861.8 326.3L1861.5 331.1L1861.1 335.8L1860.8 340.5L1860.4 345.3L1860.1 350.0L1859.8 354.7L1859.4 359.5L1859.1 364.2L1858.8 368.9L1858.5 373.7L1858.2 378.4L1857.9 383.1L1857.6 387.9L1857.4 392.6L1857.1 397.4L1856.8 402.1L1856.6 406.8L1856.3 411.6L1856.1 416.3L1855.9 421.0L1855.6 425.8L1855.4 430.5L1855.2 435.2L1855.0 440.0L1854.8 444.7L1854.6 449.4L1854.5 454.2L1854.3 458.9L1854.1 463.6L1853.9 468.4L1853.8 473.1L1853.6 477.8L1853.5 482.6L1853.4 487.3L1853.2 492.0L1853.1 496.8L1853.0 501.5L1852.9 506.2L1852.8 511.0L1852.7 515.7L1852.5 520.4L1852.4 525.2L1852.3 529.9L1852.3 534.6L1852.2 539.4L1852.1 544.1L1852.0 548.8L1851.9 553.6L1851.8 558.3L1851.7 563.0L1851.7 567.8L1851.6 572.5L1851.5 577.2L1851.5 582.0L1851.4 586.7L1851.3 591.5L1851.2 596.2L1851.2 600.9L1851.1 605.7L1851.0 610.4L1851.0 615.1L1850.9 619.9L1850.8 624.6L1850.8 629.3L1850.7 634.1L1850.7 638.8L1850.6 643.5L1850.5 648.3L1850.5 653.0L1850.4 657.7L1850.3 662.5L1850.3 667.2L1850.2 671.9L1850.2 676.7L1850.1 681.4L1850.0 686.1L1850.0 690.9L1849.9 695.6L1849.9 700.3L1849.8 705.1L1849.8 709.8L1849.7 714.5L1849.7 719.3L1849.6 724.0L1849.6 728.7L1849.5 733.5L1849.5 738.2L1849.4 742.9L1849.4 747.7L1849.4 752.4L1849.3 757.1L1849.3 761.9L1849.3 766.6L1849.2 771.3L1849.2 776.1L1849.2 780.8L1849.2 785.6L1849.1 790.3L1849.1 795.0L1849.1 799.8L1849.1 804.5L1849.1 809.2L1849.1 814.0L1849.1 818.7L1849.1 823.4L1849.1 828.2L1849.1 832.9L1849.1 837.6L1849.1 842.4L1849.1 847.1L1849.1 851.8L1849.1 856.6L1849.1 861.3L1849.1 866.0L1849.2 870.8L1849.2 875.5L1849.2 880.2L1849.2 885.0L1849.3 889.7L1849.3 894.4L1849.3 899.2L1849.3 903.9L1849.4 908.6L1849.4 913.4L1849.4 918.1L1849.5 922.8L1849.5 927.6L1849.5 932.3L1849.6 937.0L1849.6 941.8L1849.6 946.5L1849.7 951.2L1849.7 956.0L1849.7 960.7L1849.7 965.5L1849.8 970.2L1849.8 974.9L1849.8 979.7L1849.8 984.4L1849.9 989.1L1849.9 993.9L1849.9 998.6L1849.9 1003.3L1849.9 1008.1L1849.9 1012.8L1849.9 1017.5L1849.9 1022.3L1849.9 1027.0L1849.9 1031.7L1849.9 1036.5L1849.9 1041.2L1849.9 1045.9L1849.9 1050.7L1849.8 1055.4Z" fill="#FB61D7"/>
</g>
<g id="dots-a" stroke="#000" stroke-width="3.2">
<circle r="11.45" transform="translate(271.2 1055.4) scale(1.12 1)" fill="#F8766D"/>
<circle r="11.45" transform="translate(292.4 1055.4) scale(1.12 1)" fill="#F8766D"/>
<circle r="11.45" transform="translate(313.6 1055.4) scale(1.12 1)" fill="#F8766D"/>
<circle r="11.45" transform="translate(334.8 1055.4) scale(1.12 1)" fill="#F8766D"/>
<circle r="11.45" transform="translate(356.0 1055.4) scale(1.12 1)" fill="#F8766D"/>
<circle r="11.45" transform="translate(377.2 1055.4) scale(1.12 1)" fill="#F8766D"/>
<circle r="11.45" transform="translate(398.4 1055.4) scale(1.12 1)" fill="#F8766D"/>
<circle r="11.45" transform="translate(419.6 1055.4) scale(1.12 1)" fill="#F8766D"/>
<circle r="11.45" transform="translate(440.8 1055.4) scale(1.12 1)" fill="#F8766D"/>
<circle r="11.45" transform="translate(604.1 1055.4) scale(1.12 1)" fill="#C49A00"/>
<circle r="11.45" transform="translate(841.5 1055.4) scale(1.12 1)" fill="#53B400"/>
<circle r="11.45" transform="translate(862.7 1055.4) scale(1.12 1)" fill="#53B400"/>
<circle r="11.45" transform="translate(1026.0 1055.4) scale(1.12 1)" fill="#00C094"/>
<circle r="11.45" transform="translate(1047.2 1055.4) scale(1.12 1)" fill="#00C094"/>
<circle r="11.45" transform="translate(1068.4 1055.4) scale(1.12 1)" fill="#00C094"/>
<circle r="11.45" transform="translate(1089.6 1055.4) scale(1.12 1)" fill="#00C094"/>
<circle r="11.45" transform="translate(1110.8 1055.4) scale(1.12 1)" fill="#00C094"/>
<circle r="11.45" transform="translate(1132.0 1055.4) scale(1.12 1)" fill="#00C094"/>
<circle r="11.45" transform="translate(1153.2 1055.4) scale(1.12 1)" fill="#00C094"/>
<circle r="11.45" transform="translate(1174.4 1055.4) scale(1.12 1)" fill="#00C094"/>
<circle r="11.45" transform="translate(1242.2 1055.4) scale(1.12 1)" fill="#00B6EB"/>
<circle r="11.45" transform="translate(1263.4 1055.4) scale(1.12 1)" fill="#00B6EB"/>
<circle r="11.45" transform="translate(1284.6 1055.4) scale(1.12 1)" fill="#00B6EB"/>
<circle r="11.45" transform="translate(1305.8 1055.4) scale(1.12 1)" fill="#00B6EB"/>
<circle r="11.45" transform="translate(1327.0 1055.4) scale(1.12 1)" fill="#00B6EB"/>
<circle r="11.45" transform="translate(1348.2 1055.4) scale(1.12 1)" fill="#00B6EB"/>
<circle r="11.45" transform="translate(1369.4 1055.4) scale(1.12 1)" fill="#00B6EB"/>
<circle r="11.45" transform="translate(1390.6 1055.4) scale(1.12 1)" fill="#00B6EB"/>
<circle r="11.45" transform="translate(1411.8 1055.4) scale(1.12 1)" fill="#00B6EB"/>
<circle r="11.45" transform="translate(1433.0 1055.4) scale(1.12 1)" fill="#00B6EB"/>
<circle r="11.45" transform="translate(1454.2 1055.4) scale(1.12 1)" fill="#00B6EB"/>
<circle r="11.45" transform="translate(1833.7 1055.4) scale(1.12 1)" fill="#FB61D7"/>
<circle r="11.45" transform="translate(1854.9 1055.4) scale(1.12 1)" fill="#FB61D7"/>
<circle r="11.45" transform="translate(356.0 584.4) scale(1.12 1)" fill="#F8766D"/>
<circle r="11.45" transform="translate(841.5 584.4) scale(1.12 1)" fill="#53B400"/>
<circle r="11.45" transform="translate(862.7 584.4) scale(1.12 1)" fill="#53B400"/>
<circle r="11.45" transform="translate(1047.2 584.4) scale(1.12 1)" fill="#00C094"/>
<circle r="11.45" transform="translate(1068.4 584.4) scale(1.12 1)" fill="#00C094"/>
<circle r="11.45" transform="translate(1089.6 584.4) scale(1.12 1)" fill="#00C094"/>
<circle r="11.45" transform="translate(1110.8 584.4) scale(1.12 1)" fill="#00C094"/>
<circle r="11.45" transform="translate(1132.0 584.4) scale(1.12 1)" fill="#00C094"/>
<circle r="11.45" transform="translate(1153.2 584.4) scale(1.12 1)" fill="#00C094"/>
<circle r="11.45" transform="translate(1348.2 584.4) scale(1.12 1)" fill="#00B6EB"/>
<circle r="11.45" transform="translate(1564.5 584.4) scale(1.12 1)" fill="#A58AFF"/>
<circle r="11.45" transform="translate(1585.7 584.4) scale(1.12 1)" fill="#A58AFF"/>
<circle r="11.45" transform="translate(1606.8 584.4) scale(1.12 1)" fill="#A58AFF"/>
<circle r="11.45" transform="translate(1628.0 584.4) scale(1.12 1)" fill="#A58AFF"/>
<circle r="11.45" transform="translate(1833.7 584.4) scale(1.12 1)" fill="#FB61D7"/>
<circle r="11.45" transform="translate(1854.9 584.4) scale(1.12 1)" fill="#FB61D7"/>
<circle r="11.45" transform="translate(551.1 113.3) scale(1.12 1)" fill="#C49A00"/>
<circle r="11.45" transform="translate(572.3 113.3) scale(1.12 1)" fill="#C49A00"/>
<circle r="11.45" transform="translate(593.5 113.3) scale(1.12 1)" fill="#C49A00"/>
<circle r="11.45" transform="translate(614.7 113.3) scale(1.12 1)" fill="#C49A00"/>
<circle r="11.45" transform="translate(635.9 113.3) scale(1.12 1)" fill="#C49A00"/>
<circle r="11.45" transform="translate(657.1 113.3) scale(1.12 1)" fill="#C49A00"/>
<circle r="11.45" transform="translate(841.5 113.3) scale(1.12 1)" fill="#53B400"/>
<circle r="11.45" transform="translate(862.7 113.3) scale(1.12 1)" fill="#53B400"/>
<circle r="11.45" transform="translate(1596.2 113.3) scale(1.12 1)" fill="#A58AFF"/>
<circle r="11.45" transform="translate(1770.1 113.3) scale(1.12 1)" fill="#FB61D7"/>
<circle r="11.45" transform="translate(1791.3 113.3) scale(1.12 1)" fill="#FB61D7"/>
<circle r="11.45" transform="translate(1812.5 113.3) scale(1.12 1)" fill="#FB61D7"/>
<circle r="11.45" transform="translate(1833.7 113.3) scale(1.12 1)" fill="#FB61D7"/>
<circle r="11.45" transform="translate(1854.9 113.3) scale(1.12 1)" fill="#FB61D7"/>
<circle r="11.45" transform="translate(1876.1 113.3) scale(1.12 1)" fill="#FB61D7"/>
<circle r="11.45" transform="translate(1897.3 113.3) scale(1.12 1)" fill="#FB61D7"/>
<circle r="11.45" transform="translate(1918.5 113.3) scale(1.12 1)" fill="#FB61D7"/>
</g>
<g id="violins-b" stroke="#333333" stroke-width="5.3" stroke-linejoin="round">
<path d="M340.7 2320.7L340.3 2319.8L339.9 2318.9L339.6 2318.1L339.3 2317.2L339.1 2316.3L338.8 2315.5L338.6 2314.6L338.5 2313.7L338.3 2312.9L338.2 2312.0L338.2 2311.1L338.1 2310.3L338.2 2309.4L338.2 2308.5L338.3 2307.7L338.4 2306.8L338.5 2305.9L338.7 2305.1L338.8 2304.2L339.1 2303.3L339.3 2302.5L339.6 2301.6L339.8 2300.7L340.1 2299.8L340.4 2299.0L340.8 2298.1L341.1 2297.2L341.5 2296.4L341.8 2295.5L342.2 2294.6L342.5 2293.8L342.9 2292.9L343.2 2292.0L343.6 2291.2L344.0 2290.3L344.3 2289.4L344.6 2288.6L345.0 2287.7L345.3 2286.8L345.6 2286.0L345.9 2285.1L346.2 2284.2L346.5 2283.4L346.8 2282.5L347.0 2281.6L347.3 2280.8L347.5 2279.9L347.8 2279.0L348.0 2278.1L348.2 2277.3L348.4 2276.4L348.7 2275.5L348.8 2274.7L349.0 2273.8L349.2 2272.9L349.4 2272.1L349.6 2271.2L349.8 2270.3L349.9 2269.5L350.1 2268.6L350.2 2267.7L350.4 2266.9L350.5 2266.0L350.7 2265.1L350.8 2264.3L351.0 2263.4L351.1 2262.5L351.2 2261.7L351.4 2260.8L351.5 2259.9L351.6 2259.0L351.7 2258.2L351.8 2257.3L352.0 2256.4L352.1 2255.6L352.2 2254.7L352.3 2253.8L352.3 2253.0L352.4 2252.1L352.5 2251.2L352.6 2250.4L352.6 2249.5L352.7 2248.6L352.8 2247.8L352.8 2246.9L352.9 2246.0L352.9 2245.2L353.0 2244.3L353.0 2243.4L353.0 2242.6L353.1 2241.7L353.1 2240.8L353.1 2240.0L353.1 2239.1L353.2 2238.2L353.2 2237.3L353.2 2236.5L353.2 2235.6L353.2 2234.7L353.2 2233.9L353.2 2233.0L353.3 2232.1L353.3 2231.3L353.3 2230.4L353.3 2229.5L353.3 2228.7L353.3 2227.8L353.3 2226.9L353.3 2226.1L353.3 2225.2L353.3 2224.3L353.3 2223.5L353.3 2222.6L353.3 2221.7L353.3 2220.9L353.3 2220.0L353.3 2219.1L353.3 2218.2L353.3 2217.4L353.3 2216.5L353.3 2215.6L353.3 2214.8L353.3 2213.9L353.3 2213.0L353.3 2212.2L353.3 2211.3L353.3 2210.4L353.3 2209.6L353.3 2208.7L353.3 2207.8L353.3 2207.0L353.3 2206.1L353.3 2205.2L353.3 2204.4L353.3 2203.5L353.3 2202.6L353.3 2201.8L353.3 2200.9L353.3 2200.0L353.3 2199.2L353.3 2198.3L353.3 2197.4L353.3 2196.5L353.2 2195.7L353.2 2194.8L353.2 2193.9L353.2 2193.1L353.2 2192.2L353.2 2191.3L353.2 2190.5L353.1 2189.6L353.1 2188.7L353.1 2187.9L353.1 2187.0L353.0 2186.1L353.0 2185.3L353.0 2184.4L352.9 2183.5L352.9 2182.7L352.8 2181.8L352.8 2180.9L352.7 2180.1L352.7 2179.2L352.6 2178.3L352.5 2177.4L352.5 2176.6L352.4 2175.7L352.3 2174.8L352.2 2174.0L352.1 2173.1L352.1 2172.2L352.0 2171.4L351.9 2170.5L351.8 2169.6L351.7 2168.8L351.6 2167.9L351.5 2167.0L351.4 2166.2L351.4 2165.3L351.3 2164.4L351.2 2163.6L351.1 2162.7L351.1 2161.8L351.0 2161.0L350.9 2160.1L350.9 2159.2L350.9 2158.4L350.8 2157.5L350.8 2156.6L350.8 2155.7L350.8 2154.9L350.8 2154.0L350.8 2153.1L350.8 2152.3L350.8 2151.4L350.9 2150.5L350.9 2149.7L351.0 2148.8L351.0 2147.9L351.1 2147.1L351.2 2146.2L351.2 2145.3L351.3 2144.5L351.4 2143.6L351.5 2142.7L351.5 2141.9L351.6 2141.0L351.7 2140.1L351.8 2139.3L351.9 2138.4L352.0 2137.5L352.0 2136.6L352.1 2135.8L352.2 2134.9L352.3 2134.0L352.3 2133.2L352.4 2132.3L352.4 2131.4L352.5 2130.6L352.5 2129.7L352.5 2128.8L352.6 2128.0L352.6 2127.1L352.6 2126.2L352.6 2125.4L352.6 2124.5L352.6 2123.6L352.6 2122.8L352.5 2121.9L352.5 2121.0L352.5 2120.2L352.4 2119.3L352.4 2118.4L352.3 2117.6L352.3 2116.7L352.2 2115.8L352.1 2114.9L352.1 2114.1L352.0 2113.2L351.9 2112.3L351.8 2111.5L351.7 2110.6L351.7 2109.7L351.6 2108.9L351.5 2108.0L351.4 2107.1L351.3 2106.3L351.2 2105.4L351.2 2104.5L351.1 2103.7L351.0 2102.8L351.0 2101.9L350.9 2101.1L350.9 2100.2L350.8 2099.3L350.8 2098.5L350.8 2097.6L350.8 2096.7L350.8 2095.8L355.8 2095.8L355.8 2096.7L355.8 2097.6L355.8 2098.5L355.8 2099.3L355.7 2100.2L355.7 2101.1L355.6 2101.9L355.6 2102.8L355.5 2103.7L355.4 2104.5L355.4 2105.4L355.3 2106.3L355.2 2107.1L355.1 2108.0L355.0 2108.9L354.9 2109.7L354.9 2110.6L354.8 2111.5L354.7 2112.3L354.6 2113.2L354.5 2114.1L354.5 2114.9L354.4 2115.8L354.3 2116.7L354.3 2117.6L354.2 2118.4L354.2 2119.3L354.1 2120.2L354.1 2121.0L354.1 2121.9L354.0 2122.8L354.0 2123.6L354.0 2124.5L354.0 2125.4L354.0 2126.2L354.0 2127.1L354.0 2128.0L354.1 2128.8L354.1 2129.7L354.1 2130.6L354.2 2131.4L354.2 2132.3L354.3 2133.2L354.3 2134.0L354.4 2134.9L354.5 2135.8L354.6 2136.6L354.6 2137.5L354.7 2138.4L354.8 2139.3L354.9 2140.1L355.0 2141.0L355.1 2141.9L355.1 2142.7L355.2 2143.6L355.3 2144.5L355.4 2145.3L355.4 2146.2L355.5 2147.1L355.6 2147.9L355.6 2148.8L355.7 2149.7L355.7 2150.5L355.8 2151.4L355.8 2152.3L355.8 2153.1L355.8 2154.0L355.8 2154.9L355.8 2155.7L355.8 2156.6L355.8 2157.5L355.7 2158.4L355.7 2159.2L355.7 2160.1L355.6 2161.0L355.5 2161.8L355.5 2162.7L355.4 2163.6L355.3 2164.4L355.2 2165.3L355.2 2166.2L355.1 2167.0L355.0 2167.9L354.9 2168.8L354.8 2169.6L354.7 2170.5L354.6 2171.4L354.5 2172.2L354.5 2173.1L354.4 2174.0L354.3 2174.8L354.2 2175.7L354.1 2176.6L354.1 2177.4L354.0 2178.3L353.9 2179.2L353.9 2180.1L353.8 2180.9L353.8 2181.8L353.7 2182.7L353.7 2183.5L353.6 2184.4L353.6 2185.3L353.6 2186.1L353.5 2187.0L353.5 2187.9L353.5 2188.7L353.5 2189.6L353.4 2190.5L353.4 2191.3L353.4 2192.2L353.4 2193.1L353.4 2193.9L353.4 2194.8L353.4 2195.7L353.3 2196.5L353.3 2197.4L353.3 2198.3L353.3 2199.2L353.3 2200.0L353.3 2200.9L353.3 2201.8L353.3 2202.6L353.3 2203.5L353.3 2204.4L353.3 2205.2L353.3 2206.1L353.3 2207.0L353.3 2207.8L353.3 2208.7L353.3 2209.6L353.3 2210.4L353.3 2211.3L353.3 2212.2L353.3 2213.0L353.3 2213.9L353.3 2214.8L353.3 2215.6L353.3 2216.5L353.3 2217.4L353.3 2218.2L353.3 2219.1L353.3 2220.0L353.3 2220.9L353.3 2221.7L353.3 2222.6L353.3 2223.5L353.3 2224.3L353.3 2225.2L353.3 2226.1L353.3 2226.9L353.3 2227.8L353.3 2228.7L353.3 2229.5L353.3 2230.4L353.3 2231.3L353.3 2232.1L353.4 2233.0L353.4 2233.9L353.4 2234.7L353.4 2235.6L353.4 2236.5L353.4 2237.3L353.4 2238.2L353.5 2239.1L353.5 2240.0L353.5 2240.8L353.5 2241.7L353.6 2242.6L353.6 2243.4L353.6 2244.3L353.7 2245.2L353.7 2246.0L353.8 2246.9L353.8 2247.8L353.9 2248.6L354.0 2249.5L354.0 2250.4L354.1 2251.2L354.2 2252.1L354.3 2253.0L354.3 2253.8L354.4 2254.7L354.5 2255.6L354.6 2256.4L354.8 2257.3L354.9 2258.2L355.0 2259.0L355.1 2259.9L355.2 2260.8L355.4 2261.7L355.5 2262.5L355.6 2263.4L355.8 2264.3L355.9 2265.1L356.1 2266.0L356.2 2266.9L356.4 2267.7L356.5 2268.6L356.7 2269.5L356.8 2270.3L357.0 2271.2L357.2 2272.1L357.4 2272.9L357.6 2273.8L357.8 2274.7L357.9 2275.5L358.2 2276.4L358.4 2277.3L358.6 2278.1L358.8 2279.0L359.1 2279.9L359.3 2280.8L359.6 2281.6L359.8 2282.5L360.1 2283.4L360.4 2284.2L360.7 2285.1L361.0 2286.0L361.3 2286.8L361.6 2287.7L362.0 2288.6L362.3 2289.4L362.6 2290.3L363.0 2291.2L363.4 2292.0L363.7 2292.9L364.1 2293.8L364.4 2294.6L364.8 2295.5L365.1 2296.4L365.5 2297.2L365.8 2298.1L366.2 2299.0L366.5 2299.8L366.8 2300.7L367.0 2301.6L367.3 2302.5L367.5 2303.3L367.8 2304.2L367.9 2305.1L368.1 2305.9L368.2 2306.8L368.3 2307.7L368.4 2308.5L368.4 2309.4L368.5 2310.3L368.4 2311.1L368.4 2312.0L368.3 2312.9L368.1 2313.7L368.0 2314.6L367.8 2315.5L367.5 2316.3L367.3 2317.2L367.0 2318.1L366.7 2318.9L366.3 2319.8L365.9 2320.7Z" fill="#F8766D"/>
<path d="M600.0 2117.1L600.0 2116.1L599.9 2115.1L599.9 2114.0L599.9 2113.0L599.9 2112.0L599.9 2110.9L599.9 2109.9L599.8 2108.9L599.8 2107.8L599.8 2106.8L599.8 2105.8L599.8 2104.7L599.8 2103.7L599.7 2102.7L599.7 2101.6L599.7 2100.6L599.7 2099.6L599.7 2098.5L599.7 2097.5L599.7 2096.5L599.6 2095.4L599.6 2094.4L599.6 2093.4L599.6 2092.3L599.6 2091.3L599.6 2090.3L599.6 2089.2L599.6 2088.2L599.6 2087.2L599.5 2086.1L599.5 2085.1L599.5 2084.1L599.5 2083.0L599.5 2082.0L599.5 2080.9L599.5 2079.9L599.5 2078.9L599.5 2077.8L599.5 2076.8L599.5 2075.8L599.5 2074.7L599.5 2073.7L599.5 2072.7L599.5 2071.6L599.4 2070.6L599.4 2069.6L599.4 2068.5L599.4 2067.5L599.4 2066.5L599.4 2065.4L599.4 2064.4L599.4 2063.4L599.4 2062.3L599.4 2061.3L599.4 2060.3L599.4 2059.2L599.4 2058.2L599.4 2057.2L599.4 2056.1L599.4 2055.1L599.4 2054.1L599.4 2053.0L599.4 2052.0L599.4 2051.0L599.4 2049.9L599.4 2048.9L599.4 2047.9L599.4 2046.8L599.4 2045.8L599.5 2044.8L599.5 2043.7L599.5 2042.7L599.5 2041.7L599.5 2040.6L599.5 2039.6L599.5 2038.6L599.5 2037.5L599.5 2036.5L599.5 2035.5L599.5 2034.4L599.5 2033.4L599.5 2032.4L599.5 2031.3L599.5 2030.3L599.5 2029.3L599.5 2028.2L599.5 2027.2L599.6 2026.2L599.6 2025.1L599.6 2024.1L599.6 2023.0L599.6 2022.0L599.6 2021.0L599.6 2019.9L599.6 2018.9L599.6 2017.9L599.6 2016.8L599.6 2015.8L599.6 2014.8L599.7 2013.7L599.7 2012.7L599.7 2011.7L599.7 2010.6L599.7 2009.6L599.7 2008.6L599.7 2007.5L599.7 2006.5L599.7 2005.5L599.7 2004.4L599.7 2003.4L599.8 2002.4L599.8 2001.3L599.8 2000.3L599.8 1999.3L599.8 1998.2L599.8 1997.2L599.8 1996.2L599.8 1995.1L599.8 1994.1L599.8 1993.1L599.8 1992.0L599.9 1991.0L599.9 1990.0L599.9 1988.9L599.9 1987.9L599.9 1986.9L599.9 1985.8L599.9 1984.8L599.9 1983.8L599.9 1982.7L599.9 1981.7L599.9 1980.7L600.0 1979.6L600.0 1978.6L600.0 1977.6L600.0 1976.5L600.0 1975.5L600.0 1974.5L600.0 1973.4L600.0 1972.4L600.0 1971.4L600.0 1970.3L600.0 1969.3L600.1 1968.3L600.1 1967.2L600.1 1966.2L600.1 1965.2L600.1 1964.1L600.1 1963.1L600.1 1962.0L600.1 1961.0L600.1 1960.0L600.1 1958.9L600.1 1957.9L600.1 1956.9L600.1 1955.8L600.1 1954.8L600.2 1953.8L600.2 1952.7L600.2 1951.7L600.2 1950.7L600.2 1949.6L600.2 1948.6L600.2 1947.6L600.2 1946.5L600.2 1945.5L600.2 1944.5L600.2 1943.4L600.2 1942.4L600.2 1941.4L600.2 1940.3L600.2 1939.3L600.2 1938.3L600.2 1937.2L600.2 1936.2L600.2 1935.2L600.3 1934.1L600.3 1933.1L600.3 1932.1L600.3 1931.0L600.3 1930.0L600.3 1929.0L600.3 1927.9L600.3 1926.9L600.3 1925.9L600.3 1924.8L600.3 1923.8L600.3 1922.8L600.3 1921.7L600.3 1920.7L600.3 1919.7L600.3 1918.6L600.3 1917.6L600.3 1916.6L600.3 1915.5L600.3 1914.5L600.3 1913.5L600.3 1912.4L600.3 1911.4L600.3 1910.4L600.3 1909.3L600.3 1908.3L600.3 1907.3L600.3 1906.2L600.3 1905.2L600.3 1904.1L600.3 1903.1L600.3 1902.1L600.3 1901.0L600.3 1900.0L600.3 1899.0L600.3 1897.9L600.3 1896.9L600.3 1895.9L600.3 1894.8L600.3 1893.8L600.3 1892.8L600.3 1891.7L600.3 1890.7L600.3 1889.7L600.3 1888.6L600.3 1887.6L600.3 1886.6L600.3 1885.5L600.3 1884.5L600.4 1883.5L600.4 1882.4L600.4 1881.4L600.4 1880.4L600.4 1879.3L600.4 1878.3L600.4 1877.3L600.4 1876.2L600.4 1875.2L600.4 1874.2L600.4 1873.1L600.4 1872.1L600.4 1871.1L600.4 1870.0L600.4 1869.0L600.4 1868.0L600.4 1866.9L600.4 1865.9L600.4 1864.9L600.4 1863.8L600.4 1862.8L600.4 1861.8L600.4 1860.7L600.4 1859.7L600.4 1858.7L600.4 1857.6L600.4 1856.6L600.5 1855.6L600.5 1854.5L600.5 1853.5L600.5 1852.5L600.5 1851.4L600.5 1850.4L600.5 1849.4L604.2 1849.4L604.2 1850.4L604.2 1851.4L604.2 1852.5L604.2 1853.5L604.2 1854.5L604.2 1855.6L604.3 1856.6L604.3 1857.6L604.3 1858.7L604.3 1859.7L604.3 1860.7L604.3 1861.8L604.3 1862.8L604.3 1863.8L604.3 1864.9L604.3 1865.9L604.3 1866.9L604.3 1868.0L604.3 1869.0L604.3 1870.0L604.3 1871.1L604.3 1872.1L604.3 1873.1L604.3 1874.2L604.3 1875.2L604.3 1876.2L604.3 1877.3L604.3 1878.3L604.3 1879.3L604.3 1880.4L604.3 1881.4L604.3 1882.4L604.3 1883.5L604.4 1884.5L604.4 1885.5L604.4 1886.6L604.4 1887.6L604.4 1888.6L604.4 1889.7L604.4 1890.7L604.4 1891.7L604.4 1892.8L604.4 1893.8L604.4 1894.8L604.4 1895.9L604.4 1896.9L604.4 1897.9L604.4 1899.0L604.4 1900.0L604.4 1901.0L604.4 1902.1L604.4 1903.1L604.4 1904.1L604.4 1905.2L604.4 1906.2L604.4 1907.3L604.4 1908.3L604.4 1909.3L604.4 1910.4L604.4 1911.4L604.4 1912.4L604.4 1913.5L604.4 1914.5L604.4 1915.5L604.4 1916.6L604.4 1917.6L604.4 1918.6L604.4 1919.7L604.4 1920.7L604.4 1921.7L604.4 1922.8L604.4 1923.8L604.4 1924.8L604.4 1925.9L604.4 1926.9L604.4 1927.9L604.4 1929.0L604.4 1930.0L604.4 1931.0L604.4 1932.1L604.4 1933.1L604.4 1934.1L604.5 1935.2L604.5 1936.2L604.5 1937.2L604.5 1938.3L604.5 1939.3L604.5 1940.3L604.5 1941.4L604.5 1942.4L604.5 1943.4L604.5 1944.5L604.5 1945.5L604.5 1946.5L604.5 1947.6L604.5 1948.6L604.5 1949.6L604.5 1950.7L604.5 1951.7L604.5 1952.7L604.5 1953.8L604.6 1954.8L604.6 1955.8L604.6 1956.9L604.6 1957.9L604.6 1958.9L604.6 1960.0L604.6 1961.0L604.6 1962.0L604.6 1963.1L604.6 1964.1L604.6 1965.2L604.6 1966.2L604.6 1967.2L604.6 1968.3L604.7 1969.3L604.7 1970.3L604.7 1971.4L604.7 1972.4L604.7 1973.4L604.7 1974.5L604.7 1975.5L604.7 1976.5L604.7 1977.6L604.7 1978.6L604.7 1979.6L604.8 1980.7L604.8 1981.7L604.8 1982.7L604.8 1983.8L604.8 1984.8L604.8 1985.8L604.8 1986.9L604.8 1987.9L604.8 1988.9L604.8 1990.0L604.8 1991.0L604.9 1992.0L604.9 1993.1L604.9 1994.1L604.9 1995.1L604.9 1996.2L604.9 1997.2L604.9 1998.2L604.9 1999.3L604.9 2000.3L604.9 2001.3L604.9 2002.4L605.0 2003.4L605.0 2004.4L605.0 2005.5L605.0 2006.5L605.0 2007.5L605.0 2008.6L605.0 2009.6L605.0 2010.6L605.0 2011.7L605.0 2012.7L605.0 2013.7L605.1 2014.8L605.1 2015.8L605.1 2016.8L605.1 2017.9L605.1 2018.9L605.1 2019.9L605.1 2021.0L605.1 2022.0L605.1 2023.0L605.1 2024.1L605.1 2025.1L605.1 2026.2L605.2 2027.2L605.2 2028.2L605.2 2029.3L605.2 2030.3L605.2 2031.3L605.2 2032.4L605.2 2033.4L605.2 2034.4L605.2 2035.5L605.2 2036.5L605.2 2037.5L605.2 2038.6L605.2 2039.6L605.2 2040.6L605.2 2041.7L605.2 2042.7L605.2 2043.7L605.2 2044.8L605.3 2045.8L605.3 2046.8L605.3 2047.9L605.3 2048.9L605.3 2049.9L605.3 2051.0L605.3 2052.0L605.3 2053.0L605.3 2054.1L605.3 2055.1L605.3 2056.1L605.3 2057.2L605.3 2058.2L605.3 2059.2L605.3 2060.3L605.3 2061.3L605.3 2062.3L605.3 2063.4L605.3 2064.4L605.3 2065.4L605.3 2066.5L605.3 2067.5L605.3 2068.5L605.3 2069.6L605.3 2070.6L605.2 2071.6L605.2 2072.7L605.2 2073.7L605.2 2074.7L605.2 2075.8L605.2 2076.8L605.2 2077.8L605.2 2078.9L605.2 2079.9L605.2 2080.9L605.2 2082.0L605.2 2083.0L605.2 2084.1L605.2 2085.1L605.2 2086.1L605.1 2087.2L605.1 2088.2L605.1 2089.2L605.1 2090.3L605.1 2091.3L605.1 2092.3L605.1 2093.4L605.1 2094.4L605.1 2095.4L605.0 2096.5L605.0 2097.5L605.0 2098.5L605.0 2099.6L605.0 2100.6L605.0 2101.6L605.0 2102.7L604.9 2103.7L604.9 2104.7L604.9 2105.8L604.9 2106.8L604.9 2107.8L604.9 2108.9L604.8 2109.9L604.8 2110.9L604.8 2112.0L604.8 2113.0L604.8 2114.0L604.8 2115.1L604.7 2116.1L604.7 2117.1Z" fill="#C49A00"/>
<path d="M840.7 2343.5L840.6 2343.2L840.5 2342.9L840.4 2342.6L840.3 2342.4L840.2 2342.1L840.1 2341.8L840.1 2341.5L840.0 2341.3L839.9 2341.0L839.8 2340.7L839.7 2340.4L839.7 2340.2L839.6 2339.9L839.5 2339.6L839.4 2339.3L839.4 2339.1L839.3 2338.8L839.2 2338.5L839.2 2338.2L839.1 2338.0L839.1 2337.7L839.0 2337.4L839.0 2337.1L838.9 2336.9L838.9 2336.6L838.8 2336.3L838.8 2336.0L838.7 2335.8L838.7 2335.5L838.6 2335.2L838.6 2334.9L838.6 2334.7L838.5 2334.4L838.5 2334.1L838.4 2333.8L838.4 2333.5L838.4 2333.3L838.3 2333.0L838.3 2332.7L838.3 2332.4L838.2 2332.2L838.2 2331.9L838.2 2331.6L838.2 2331.3L838.1 2331.1L838.1 2330.8L838.1 2330.5L838.0 2330.2L838.0 2330.0L838.0 2329.7L838.0 2329.4L837.9 2329.1L837.9 2328.9L837.9 2328.6L837.9 2328.3L837.8 2328.0L837.8 2327.8L837.8 2327.5L837.8 2327.2L837.7 2326.9L837.7 2326.7L837.7 2326.4L837.7 2326.1L837.6 2325.8L837.6 2325.6L837.6 2325.3L837.6 2325.0L837.5 2324.7L837.5 2324.5L837.5 2324.2L837.5 2323.9L837.5 2323.6L837.4 2323.4L837.4 2323.1L837.4 2322.8L837.4 2322.5L837.4 2322.3L837.3 2322.0L837.3 2321.7L837.3 2321.4L837.3 2321.2L837.3 2320.9L837.3 2320.6L837.3 2320.3L837.3 2320.1L837.2 2319.8L837.2 2319.5L837.2 2319.2L837.2 2319.0L837.2 2318.7L837.2 2318.4L837.2 2318.1L837.2 2317.9L837.2 2317.6L837.2 2317.3L837.3 2317.0L837.3 2316.7L837.3 2316.5L837.3 2316.2L837.3 2315.9L837.3 2315.6L837.4 2315.4L837.4 2315.1L837.4 2314.8L837.4 2314.5L837.5 2314.3L837.5 2314.0L837.5 2313.7L837.6 2313.4L837.6 2313.2L837.7 2312.9L837.7 2312.6L837.8 2312.3L837.8 2312.1L837.9 2311.8L837.9 2311.5L838.0 2311.2L838.1 2311.0L838.1 2310.7L838.2 2310.4L838.3 2310.1L838.3 2309.9L838.4 2309.6L838.5 2309.3L838.6 2309.0L838.7 2308.8L838.7 2308.5L838.8 2308.2L838.9 2307.9L839.0 2307.7L839.1 2307.4L839.2 2307.1L839.3 2306.8L839.4 2306.6L839.5 2306.3L839.6 2306.0L839.7 2305.7L839.9 2305.5L840.0 2305.2L840.1 2304.9L840.2 2304.6L840.3 2304.4L840.4 2304.1L840.6 2303.8L840.7 2303.5L840.8 2303.3L840.9 2303.0L841.0 2302.7L841.2 2302.4L841.3 2302.2L841.4 2301.9L841.5 2301.6L841.7 2301.3L841.8 2301.0L841.9 2300.8L842.0 2300.5L842.2 2300.2L842.3 2299.9L842.4 2299.7L842.5 2299.4L842.7 2299.1L842.8 2298.8L842.9 2298.6L843.0 2298.3L843.2 2298.0L843.3 2297.7L843.4 2297.5L843.5 2297.2L843.6 2296.9L843.7 2296.6L843.9 2296.4L844.0 2296.1L844.1 2295.8L844.2 2295.5L844.3 2295.3L844.4 2295.0L844.5 2294.7L844.6 2294.4L844.7 2294.2L844.8 2293.9L844.9 2293.6L845.0 2293.3L845.1 2293.1L845.1 2292.8L845.2 2292.5L845.3 2292.2L845.4 2292.0L845.5 2291.7L845.5 2291.4L845.6 2291.1L845.7 2290.9L845.7 2290.6L845.8 2290.3L845.8 2290.0L845.9 2289.8L846.0 2289.5L846.0 2289.2L846.1 2288.9L846.1 2288.7L846.1 2288.4L846.2 2288.1L846.2 2287.8L846.2 2287.6L846.3 2287.3L846.3 2287.0L846.3 2286.7L846.4 2286.5L846.4 2286.2L846.4 2285.9L846.4 2285.6L846.4 2285.4L846.4 2285.1L846.5 2284.8L846.5 2284.5L846.5 2284.2L846.5 2284.0L846.5 2283.7L846.5 2283.4L846.5 2283.1L846.5 2282.9L846.5 2282.6L846.5 2282.3L846.5 2282.0L846.5 2281.8L846.5 2281.5L846.4 2281.2L846.4 2280.9L846.4 2280.7L846.4 2280.4L846.4 2280.1L846.4 2279.8L846.4 2279.6L846.4 2279.3L846.4 2279.0L846.3 2278.7L846.3 2278.5L846.3 2278.2L846.3 2277.9L846.3 2277.6L846.3 2277.4L846.3 2277.1L846.3 2276.8L846.3 2276.5L846.3 2276.3L846.3 2276.0L846.2 2275.7L846.2 2275.4L846.2 2275.2L846.2 2274.9L846.2 2274.6L846.2 2274.3L846.2 2274.1L846.2 2273.8L846.2 2273.5L846.2 2273.2L846.3 2273.0L846.3 2272.7L846.3 2272.4L846.3 2272.1L856.5 2272.1L856.5 2272.4L856.5 2272.7L856.5 2273.0L856.6 2273.2L856.6 2273.5L856.6 2273.8L856.6 2274.1L856.6 2274.3L856.6 2274.6L856.6 2274.9L856.6 2275.2L856.6 2275.4L856.6 2275.7L856.5 2276.0L856.5 2276.3L856.5 2276.5L856.5 2276.8L856.5 2277.1L856.5 2277.4L856.5 2277.6L856.5 2277.9L856.5 2278.2L856.5 2278.5L856.5 2278.7L856.4 2279.0L856.4 2279.3L856.4 2279.6L856.4 2279.8L856.4 2280.1L856.4 2280.4L856.4 2280.7L856.4 2280.9L856.4 2281.2L856.3 2281.5L856.3 2281.8L856.3 2282.0L856.3 2282.3L856.3 2282.6L856.3 2282.9L856.3 2283.1L856.3 2283.4L856.3 2283.7L856.3 2284.0L856.3 2284.2L856.3 2284.5L856.3 2284.8L856.4 2285.1L856.4 2285.4L856.4 2285.6L856.4 2285.9L856.4 2286.2L856.4 2286.5L856.5 2286.7L856.5 2287.0L856.5 2287.3L856.6 2287.6L856.6 2287.8L856.6 2288.1L856.7 2288.4L856.7 2288.7L856.7 2288.9L856.8 2289.2L856.8 2289.5L856.9 2289.8L857.0 2290.0L857.0 2290.3L857.1 2290.6L857.1 2290.9L857.2 2291.1L857.3 2291.4L857.3 2291.7L857.4 2292.0L857.5 2292.2L857.6 2292.5L857.7 2292.8L857.7 2293.1L857.8 2293.3L857.9 2293.6L858.0 2293.9L858.1 2294.2L858.2 2294.4L858.3 2294.7L858.4 2295.0L858.5 2295.3L858.6 2295.5L858.7 2295.8L858.8 2296.1L858.9 2296.4L859.1 2296.6L859.2 2296.9L859.3 2297.2L859.4 2297.5L859.5 2297.7L859.6 2298.0L859.8 2298.3L859.9 2298.6L860.0 2298.8L860.1 2299.1L860.3 2299.4L860.4 2299.7L860.5 2299.9L860.6 2300.2L860.8 2300.5L860.9 2300.8L861.0 2301.0L861.1 2301.3L861.3 2301.6L861.4 2301.9L861.5 2302.2L861.6 2302.4L861.8 2302.7L861.9 2303.0L862.0 2303.3L862.1 2303.5L862.2 2303.8L862.4 2304.1L862.5 2304.4L862.6 2304.6L862.7 2304.9L862.8 2305.2L862.9 2305.5L863.1 2305.7L863.2 2306.0L863.3 2306.3L863.4 2306.6L863.5 2306.8L863.6 2307.1L863.7 2307.4L863.8 2307.7L863.9 2307.9L864.0 2308.2L864.1 2308.5L864.1 2308.8L864.2 2309.0L864.3 2309.3L864.4 2309.6L864.5 2309.9L864.5 2310.1L864.6 2310.4L864.7 2310.7L864.7 2311.0L864.8 2311.2L864.9 2311.5L864.9 2311.8L865.0 2312.1L865.0 2312.3L865.1 2312.6L865.1 2312.9L865.2 2313.2L865.2 2313.4L865.3 2313.7L865.3 2314.0L865.3 2314.3L865.4 2314.5L865.4 2314.8L865.4 2315.1L865.4 2315.4L865.5 2315.6L865.5 2315.9L865.5 2316.2L865.5 2316.5L865.5 2316.7L865.5 2317.0L865.6 2317.3L865.6 2317.6L865.6 2317.9L865.6 2318.1L865.6 2318.4L865.6 2318.7L865.6 2319.0L865.6 2319.2L865.6 2319.5L865.6 2319.8L865.5 2320.1L865.5 2320.3L865.5 2320.6L865.5 2320.9L865.5 2321.2L865.5 2321.4L865.5 2321.7L865.5 2322.0L865.4 2322.3L865.4 2322.5L865.4 2322.8L865.4 2323.1L865.4 2323.4L865.3 2323.6L865.3 2323.9L865.3 2324.2L865.3 2324.5L865.3 2324.7L865.2 2325.0L865.2 2325.3L865.2 2325.6L865.2 2325.8L865.1 2326.1L865.1 2326.4L865.1 2326.7L865.1 2326.9L865.0 2327.2L865.0 2327.5L865.0 2327.8L865.0 2328.0L864.9 2328.3L864.9 2328.6L864.9 2328.9L864.9 2329.1L864.8 2329.4L864.8 2329.7L864.8 2330.0L864.8 2330.2L864.7 2330.5L864.7 2330.8L864.7 2331.1L864.6 2331.3L864.6 2331.6L864.6 2331.9L864.6 2332.2L864.5 2332.4L864.5 2332.7L864.5 2333.0L864.4 2333.3L864.4 2333.5L864.4 2333.8L864.3 2334.1L864.3 2334.4L864.2 2334.7L864.2 2334.9L864.2 2335.2L864.1 2335.5L864.1 2335.8L864.0 2336.0L864.0 2336.3L863.9 2336.6L863.9 2336.9L863.8 2337.1L863.8 2337.4L863.7 2337.7L863.7 2338.0L863.6 2338.2L863.6 2338.5L863.5 2338.8L863.4 2339.1L863.4 2339.3L863.3 2339.6L863.2 2339.9L863.1 2340.2L863.1 2340.4L863.0 2340.7L862.9 2341.0L862.8 2341.3L862.7 2341.5L862.7 2341.8L862.6 2342.1L862.5 2342.4L862.4 2342.6L862.3 2342.9L862.2 2343.2L862.1 2343.5Z" fill="#53B400"/>
<path d="M1094.9 2311.7L1094.6 2309.4L1094.3 2307.1L1094.1 2304.8L1093.8 2302.5L1093.6 2300.2L1093.4 2297.9L1093.2 2295.6L1093.0 2293.3L1092.8 2291.0L1092.6 2288.7L1092.5 2286.4L1092.3 2284.1L1092.2 2281.8L1092.1 2279.5L1092.1 2277.2L1092.0 2274.9L1092.0 2272.6L1092.1 2270.3L1092.1 2268.0L1092.2 2265.7L1092.4 2263.4L1092.6 2261.1L1092.8 2258.8L1093.0 2256.5L1093.3 2254.2L1093.6 2251.9L1093.8 2249.6L1094.1 2247.3L1094.4 2245.0L1094.7 2242.7L1095.0 2240.4L1095.3 2238.1L1095.6 2235.8L1095.8 2233.5L1096.1 2231.2L1096.3 2228.9L1096.6 2226.6L1096.8 2224.3L1097.0 2222.0L1097.2 2219.7L1097.4 2217.4L1097.7 2215.1L1097.9 2212.8L1098.1 2210.5L1098.3 2208.2L1098.5 2205.9L1098.7 2203.6L1098.9 2201.3L1099.1 2198.9L1099.2 2196.6L1099.4 2194.3L1099.5 2192.0L1099.7 2189.7L1099.8 2187.4L1099.9 2185.1L1100.0 2182.8L1100.1 2180.5L1100.2 2178.2L1100.2 2175.9L1100.3 2173.6L1100.3 2171.3L1100.3 2169.0L1100.4 2166.7L1100.4 2164.4L1100.4 2162.1L1100.4 2159.8L1100.4 2157.5L1100.4 2155.2L1100.4 2152.9L1100.4 2150.6L1100.4 2148.3L1100.4 2146.0L1100.4 2143.7L1100.4 2141.4L1100.4 2139.1L1100.4 2136.8L1100.4 2134.5L1100.4 2132.2L1100.4 2129.9L1100.4 2127.6L1100.4 2125.3L1100.4 2123.0L1100.4 2120.7L1100.4 2118.4L1100.4 2116.1L1100.4 2113.8L1100.4 2111.5L1100.4 2109.2L1100.4 2106.9L1100.4 2104.6L1100.4 2102.3L1100.4 2100.0L1100.4 2097.7L1100.4 2095.4L1100.4 2093.1L1100.4 2090.8L1100.4 2088.5L1100.4 2086.2L1100.4 2083.9L1100.4 2081.6L1100.4 2079.3L1100.4 2077.0L1100.4 2074.7L1100.4 2072.4L1100.4 2070.1L1100.4 2067.8L1100.4 2065.5L1100.4 2063.2L1100.4 2060.9L1100.4 2058.6L1100.4 2056.3L1100.4 2054.0L1100.4 2051.7L1100.4 2049.4L1100.4 2047.1L1100.3 2044.8L1100.3 2042.5L1100.3 2040.1L1100.3 2037.8L1100.2 2035.5L1100.2 2033.2L1100.1 2030.9L1100.1 2028.6L1100.0 2026.3L1099.9 2024.0L1099.8 2021.7L1099.8 2019.4L1099.7 2017.1L1099.6 2014.8L1099.5 2012.5L1099.5 2010.2L1099.4 2007.9L1099.4 2005.6L1099.3 2003.3L1099.3 2001.0L1099.3 1998.7L1099.2 1996.4L1099.2 1994.1L1099.3 1991.8L1099.3 1989.5L1099.3 1987.2L1099.4 1984.9L1099.4 1982.6L1099.5 1980.3L1099.6 1978.0L1099.7 1975.7L1099.7 1973.4L1099.8 1971.1L1099.9 1968.8L1099.9 1966.5L1100.0 1964.2L1100.1 1961.9L1100.1 1959.6L1100.2 1957.3L1100.2 1955.0L1100.3 1952.7L1100.3 1950.4L1100.3 1948.1L1100.4 1945.8L1100.4 1943.5L1100.4 1941.2L1100.4 1938.9L1100.4 1936.6L1100.4 1934.3L1100.4 1932.0L1100.4 1929.7L1100.4 1927.4L1100.4 1925.1L1100.4 1922.8L1100.4 1920.5L1100.4 1918.2L1100.4 1915.9L1100.4 1913.6L1100.4 1911.3L1100.4 1909.0L1100.4 1906.7L1100.4 1904.4L1100.4 1902.1L1100.4 1899.8L1100.4 1897.5L1100.4 1895.2L1100.4 1892.9L1100.4 1890.6L1100.4 1888.3L1100.4 1886.0L1100.4 1883.7L1100.4 1881.3L1100.4 1879.0L1100.4 1876.7L1100.4 1874.4L1100.4 1872.1L1100.4 1869.8L1100.4 1867.5L1100.4 1865.2L1100.4 1862.9L1100.4 1860.6L1100.4 1858.3L1100.4 1856.0L1100.4 1853.7L1100.4 1851.4L1100.4 1849.1L1100.4 1846.8L1100.4 1844.5L1100.4 1842.2L1100.4 1839.9L1100.4 1837.6L1100.4 1835.3L1100.4 1833.0L1100.4 1830.7L1100.4 1828.4L1100.4 1826.1L1100.4 1823.8L1100.4 1821.5L1100.4 1819.2L1100.4 1816.9L1100.4 1814.6L1100.4 1812.3L1100.4 1810.0L1100.4 1807.7L1100.4 1805.4L1100.4 1803.1L1100.4 1800.8L1100.4 1798.5L1100.4 1796.2L1100.4 1793.9L1100.4 1791.6L1100.4 1789.3L1100.4 1787.0L1100.4 1784.7L1100.4 1782.4L1100.4 1780.1L1100.4 1777.8L1100.4 1775.5L1100.4 1773.2L1100.4 1770.9L1100.4 1768.6L1100.4 1766.3L1100.3 1764.0L1100.3 1761.7L1100.3 1759.4L1100.2 1757.1L1100.2 1754.8L1100.2 1752.5L1100.1 1750.2L1100.0 1747.9L1100.0 1745.6L1099.9 1743.3L1099.8 1741.0L1099.8 1738.7L1099.7 1736.4L1099.6 1734.1L1099.5 1731.8L1099.5 1729.5L1099.4 1727.2L1099.3 1724.9L1099.3 1722.5L1099.3 1720.2L1099.2 1717.9L1099.2 1715.6L1101.7 1715.6L1101.7 1717.9L1101.6 1720.2L1101.6 1722.5L1101.6 1724.9L1101.5 1727.2L1101.4 1729.5L1101.4 1731.8L1101.3 1734.1L1101.2 1736.4L1101.1 1738.7L1101.1 1741.0L1101.0 1743.3L1100.9 1745.6L1100.9 1747.9L1100.8 1750.2L1100.7 1752.5L1100.7 1754.8L1100.7 1757.1L1100.6 1759.4L1100.6 1761.7L1100.6 1764.0L1100.5 1766.3L1100.5 1768.6L1100.5 1770.9L1100.5 1773.2L1100.5 1775.5L1100.5 1777.8L1100.5 1780.1L1100.5 1782.4L1100.5 1784.7L1100.5 1787.0L1100.5 1789.3L1100.5 1791.6L1100.5 1793.9L1100.5 1796.2L1100.5 1798.5L1100.5 1800.8L1100.5 1803.1L1100.5 1805.4L1100.5 1807.7L1100.5 1810.0L1100.5 1812.3L1100.5 1814.6L1100.5 1816.9L1100.5 1819.2L1100.5 1821.5L1100.5 1823.8L1100.5 1826.1L1100.5 1828.4L1100.5 1830.7L1100.5 1833.0L1100.5 1835.3L1100.5 1837.6L1100.5 1839.9L1100.5 1842.2L1100.5 1844.5L1100.5 1846.8L1100.5 1849.1L1100.5 1851.4L1100.5 1853.7L1100.5 1856.0L1100.5 1858.3L1100.5 1860.6L1100.5 1862.9L1100.5 1865.2L1100.5 1867.5L1100.5 1869.8L1100.5 1872.1L1100.5 1874.4L1100.5 1876.7L1100.5 1879.0L1100.5 1881.3L1100.5 1883.7L1100.5 1886.0L1100.5 1888.3L1100.5 1890.6L1100.5 1892.9L1100.5 1895.2L1100.5 1897.5L1100.5 1899.8L1100.5 1902.1L1100.5 1904.4L1100.5 1906.7L1100.5 1909.0L1100.5 1911.3L1100.5 1913.6L1100.5 1915.9L1100.5 1918.2L1100.5 1920.5L1100.5 1922.8L1100.5 1925.1L1100.5 1927.4L1100.5 1929.7L1100.5 1932.0L1100.5 1934.3L1100.5 1936.6L1100.5 1938.9L1100.5 1941.2L1100.5 1943.5L1100.5 1945.8L1100.6 1948.1L1100.6 1950.4L1100.6 1952.7L1100.7 1955.0L1100.7 1957.3L1100.8 1959.6L1100.8 1961.9L1100.9 1964.2L1101.0 1966.5L1101.0 1968.8L1101.1 1971.1L1101.2 1973.4L1101.2 1975.7L1101.3 1978.0L1101.4 1980.3L1101.5 1982.6L1101.5 1984.9L1101.6 1987.2L1101.6 1989.5L1101.6 1991.8L1101.7 1994.1L1101.7 1996.4L1101.6 1998.7L1101.6 2001.0L1101.6 2003.3L1101.5 2005.6L1101.5 2007.9L1101.4 2010.2L1101.4 2012.5L1101.3 2014.8L1101.2 2017.1L1101.1 2019.4L1101.1 2021.7L1101.0 2024.0L1100.9 2026.3L1100.8 2028.6L1100.8 2030.9L1100.7 2033.2L1100.7 2035.5L1100.6 2037.8L1100.6 2040.1L1100.6 2042.5L1100.6 2044.8L1100.5 2047.1L1100.5 2049.4L1100.5 2051.7L1100.5 2054.0L1100.5 2056.3L1100.5 2058.6L1100.5 2060.9L1100.5 2063.2L1100.5 2065.5L1100.5 2067.8L1100.5 2070.1L1100.5 2072.4L1100.5 2074.7L1100.5 2077.0L1100.5 2079.3L1100.5 2081.6L1100.5 2083.9L1100.5 2086.2L1100.5 2088.5L1100.5 2090.8L1100.5 2093.1L1100.5 2095.4L1100.5 2097.7L1100.5 2100.0L1100.5 2102.3L1100.5 2104.6L1100.5 2106.9L1100.5 2109.2L1100.5 2111.5L1100.5 2113.8L1100.5 2116.1L1100.5 2118.4L1100.5 2120.7L1100.5 2123.0L1100.5 2125.3L1100.5 2127.6L1100.5 2129.9L1100.5 2132.2L1100.5 2134.5L1100.5 2136.8L1100.5 2139.1L1100.5 2141.4L1100.5 2143.7L1100.5 2146.0L1100.5 2148.3L1100.5 2150.6L1100.5 2152.9L1100.5 2155.2L1100.5 2157.5L1100.5 2159.8L1100.5 2162.1L1100.5 2164.4L1100.5 2166.7L1100.6 2169.0L1100.6 2171.3L1100.6 2173.6L1100.7 2175.9L1100.7 2178.2L1100.8 2180.5L1100.9 2182.8L1101.0 2185.1L1101.1 2187.4L1101.2 2189.7L1101.4 2192.0L1101.5 2194.3L1101.7 2196.6L1101.8 2198.9L1102.0 2201.3L1102.2 2203.6L1102.4 2205.9L1102.6 2208.2L1102.8 2210.5L1103.0 2212.8L1103.2 2215.1L1103.5 2217.4L1103.7 2219.7L1103.9 2222.0L1104.1 2224.3L1104.3 2226.6L1104.6 2228.9L1104.8 2231.2L1105.1 2233.5L1105.3 2235.8L1105.6 2238.1L1105.9 2240.4L1106.2 2242.7L1106.5 2245.0L1106.8 2247.3L1107.1 2249.6L1107.3 2251.9L1107.6 2254.2L1107.9 2256.5L1108.1 2258.8L1108.3 2261.1L1108.5 2263.4L1108.7 2265.7L1108.8 2268.0L1108.8 2270.3L1108.9 2272.6L1108.9 2274.9L1108.8 2277.2L1108.8 2279.5L1108.7 2281.8L1108.6 2284.1L1108.4 2286.4L1108.3 2288.7L1108.1 2291.0L1107.9 2293.3L1107.7 2295.6L1107.5 2297.9L1107.3 2300.2L1107.1 2302.5L1106.8 2304.8L1106.6 2307.1L1106.3 2309.4L1106.0 2311.7Z" fill="#00C094"/>
<path d="M1290.6 2346.1L1287.7 2346.0L1284.7 2345.9L1281.7 2345.8L1278.8 2345.7L1275.8 2345.5L1272.9 2345.4L1270.0 2345.3L1267.2 2345.2L1264.4 2345.1L1261.8 2345.0L1259.1 2344.9L1256.6 2344.8L1254.2 2344.7L1252.0 2344.6L1249.8 2344.5L1247.8 2344.4L1246.0 2344.3L1244.3 2344.2L1242.8 2344.0L1241.5 2343.9L1240.3 2343.8L1239.3 2343.7L1238.6 2343.6L1238.0 2343.5L1237.6 2343.4L1237.4 2343.3L1237.4 2343.2L1237.7 2343.1L1238.1 2343.0L1238.6 2342.9L1239.4 2342.8L1240.4 2342.7L1241.5 2342.6L1242.8 2342.4L1244.2 2342.3L1245.8 2342.2L1247.5 2342.1L1249.3 2342.0L1251.3 2341.9L1253.4 2341.8L1255.5 2341.7L1257.8 2341.6L1260.1 2341.5L1262.5 2341.4L1265.0 2341.3L1267.5 2341.2L1270.1 2341.1L1272.7 2341.0L1275.3 2340.8L1277.9 2340.7L1280.6 2340.6L1283.2 2340.5L1285.9 2340.4L1288.5 2340.3L1291.1 2340.2L1293.7 2340.1L1296.3 2340.0L1298.9 2339.9L1301.4 2339.8L1303.9 2339.7L1306.3 2339.6L1308.7 2339.5L1311.0 2339.3L1313.3 2339.2L1315.5 2339.1L1317.6 2339.0L1319.7 2338.9L1321.7 2338.8L1323.6 2338.7L1325.5 2338.6L1327.2 2338.5L1328.9 2338.4L1330.5 2338.3L1332.1 2338.2L1333.5 2338.1L1334.9 2338.0L1336.2 2337.9L1337.4 2337.7L1338.5 2337.6L1339.5 2337.5L1340.5 2337.4L1341.4 2337.3L1342.3 2337.2L1343.0 2337.1L1343.7 2337.0L1344.4 2336.9L1345.0 2336.8L1345.5 2336.7L1346.0 2336.6L1346.4 2336.5L1346.8 2336.4L1347.1 2336.2L1347.4 2336.1L1347.7 2336.0L1348.0 2335.9L1348.2 2335.8L1348.4 2335.7L1348.5 2335.6L1348.7 2335.5L1348.8 2335.4L1348.9 2335.3L1349.0 2335.2L1349.1 2335.1L1349.1 2335.0L1349.2 2334.9L1349.3 2334.8L1349.3 2334.6L1349.3 2334.5L1349.4 2334.4L1349.4 2334.3L1349.4 2334.2L1349.4 2334.1L1349.4 2334.0L1349.4 2333.9L1349.5 2333.8L1349.5 2333.7L1349.5 2333.6L1349.5 2333.5L1349.5 2333.4L1349.5 2333.3L1349.5 2333.1L1349.5 2333.0L1349.5 2332.9L1349.5 2332.8L1349.5 2332.7L1349.5 2332.6L1349.5 2332.5L1349.5 2332.4L1349.5 2332.3L1349.5 2332.2L1349.5 2332.1L1349.5 2332.0L1349.5 2331.9L1349.5 2331.8L1349.5 2331.7L1349.5 2331.5L1349.5 2331.4L1349.5 2331.3L1349.5 2331.2L1349.5 2331.1L1349.5 2331.0L1349.5 2330.9L1349.5 2330.8L1349.5 2330.7L1349.5 2330.6L1349.5 2330.5L1349.5 2330.4L1349.5 2330.3L1349.5 2330.2L1349.5 2330.1L1349.5 2329.9L1349.5 2329.8L1349.5 2329.7L1349.5 2329.6L1349.5 2329.5L1349.5 2329.4L1349.5 2329.3L1349.5 2329.2L1349.5 2329.1L1349.5 2329.0L1349.5 2328.9L1349.5 2328.8L1349.5 2328.7L1349.5 2328.6L1349.5 2328.4L1349.5 2328.3L1349.5 2328.2L1349.5 2328.1L1349.5 2328.0L1349.5 2327.9L1349.5 2327.8L1349.5 2327.7L1349.5 2327.6L1349.5 2327.5L1349.5 2327.4L1349.5 2327.3L1349.5 2327.2L1349.5 2327.1L1349.5 2327.0L1349.5 2326.8L1349.5 2326.7L1349.5 2326.6L1349.5 2326.5L1349.5 2326.4L1349.5 2326.3L1349.5 2326.2L1349.5 2326.1L1349.5 2326.0L1349.5 2325.9L1349.5 2325.8L1349.5 2325.7L1349.5 2325.6L1349.5 2325.5L1349.5 2325.3L1349.5 2325.2L1349.5 2325.1L1349.5 2325.0L1349.5 2324.9L1349.5 2324.8L1349.5 2324.7L1349.5 2324.6L1349.5 2324.5L1349.5 2324.4L1349.5 2324.3L1349.5 2324.2L1349.5 2324.1L1349.5 2324.0L1349.5 2323.9L1349.5 2323.7L1349.5 2323.6L1349.5 2323.5L1349.5 2323.4L1349.5 2323.3L1349.5 2323.2L1349.5 2323.1L1349.5 2323.0L1349.5 2322.9L1349.5 2322.8L1349.5 2322.7L1349.5 2322.6L1349.5 2322.5L1349.5 2322.4L1349.5 2322.2L1349.5 2322.1L1349.5 2322.0L1349.5 2321.9L1349.5 2321.8L1349.5 2321.7L1349.5 2321.6L1349.5 2321.5L1349.5 2321.4L1349.5 2321.3L1349.5 2321.2L1349.5 2321.1L1349.5 2321.0L1349.5 2320.9L1349.5 2320.8L1349.5 2320.6L1349.5 2320.5L1349.5 2320.4L1349.5 2320.3L1349.5 2320.2L1349.5 2320.1L1349.5 2320.0L1349.5 2319.9L1349.5 2319.8L1349.5 2319.7L1349.5 2319.6L1349.5 2319.5L1349.5 2319.4L1349.5 2319.3L1349.5 2319.2L1349.5 2319.0L1349.5 2318.9L1349.5 2318.8L1349.5 2318.7L1349.5 2318.6L1349.5 2318.5L1349.5 2318.4L1349.5 2318.3L1349.5 2318.2L1349.5 2318.1L1349.5 2318.0L1349.5 2317.9L1349.5 2317.8L1349.5 2317.7L1349.5 2317.5L1349.5 2317.4L1349.5 2317.3L1349.5 2317.2L1349.5 2317.1L1349.5 2317.0L1349.5 2316.9L1349.5 2316.8L1349.5 2316.7L1349.5 2316.6L1349.5 2316.5L1349.5 2316.4L1349.5 2316.3L1349.5 2316.2L1349.5 2316.1L1349.5 2315.9L1349.5 2315.8L1349.5 2315.7L1349.5 2315.6L1349.5 2315.5L1349.5 2315.4L1349.5 2315.3L1349.5 2315.2L1349.5 2315.1L1349.5 2315.0L1349.5 2314.9L1349.5 2314.8L1349.5 2314.7L1349.5 2314.6L1349.5 2314.4L1349.5 2314.3L1349.5 2314.2L1349.5 2314.1L1349.5 2314.0L1349.5 2313.9L1349.5 2313.8L1349.5 2313.7L1349.5 2313.6L1349.5 2313.5L1349.5 2313.4L1349.5 2313.3L1349.5 2313.2L1349.5 2313.1L1349.5 2313.0L1349.5 2312.8L1349.5 2312.7L1349.5 2312.6L1349.5 2312.5L1349.5 2312.4L1349.5 2312.3L1349.5 2312.2L1349.5 2312.1L1349.5 2312.0L1349.5 2311.9L1349.5 2311.8L1349.5 2311.7L1349.5 2311.6L1349.5 2311.5L1349.5 2311.3L1349.5 2311.2L1349.5 2311.1L1349.5 2311.0L1349.5 2310.9L1349.5 2310.8L1349.5 2310.7L1349.5 2310.6L1349.5 2310.5L1349.5 2310.4L1349.5 2310.3L1349.5 2310.2L1349.5 2310.1L1349.5 2310.0L1349.5 2309.9L1349.5 2309.7L1349.5 2309.6L1349.5 2309.5L1349.5 2309.4L1349.5 2309.3L1349.5 2309.2L1349.5 2309.1L1349.5 2309.0L1349.5 2308.9L1349.5 2308.8L1349.5 2308.7L1349.5 2308.6L1349.5 2308.5L1349.5 2308.4L1349.5 2308.3L1349.5 2308.1L1349.5 2308.0L1349.5 2307.9L1349.5 2307.8L1349.5 2307.7L1349.5 2307.6L1349.5 2307.5L1349.5 2307.4L1349.5 2307.3L1349.5 2307.2L1349.5 2307.1L1349.5 2307.0L1349.5 2306.9L1349.5 2306.8L1349.5 2306.6L1349.5 2306.5L1349.5 2306.4L1349.5 2306.3L1349.5 2306.2L1349.5 2306.1L1349.5 2306.0L1349.5 2305.9L1349.5 2305.8L1349.5 2305.7L1349.5 2305.6L1349.5 2305.5L1349.5 2305.4L1349.5 2305.3L1349.5 2305.2L1349.5 2305.0L1349.5 2304.9L1349.5 2304.8L1349.5 2304.7L1349.5 2304.6L1349.5 2304.5L1349.5 2304.4L1349.5 2304.3L1349.5 2304.2L1349.5 2304.1L1349.5 2304.0L1349.5 2303.9L1349.5 2303.8L1349.5 2303.7L1349.5 2303.5L1349.5 2303.4L1349.5 2303.3L1349.5 2303.2L1349.5 2303.1L1349.5 2303.0L1349.5 2302.9L1349.5 2302.8L1349.5 2302.7L1349.5 2302.6L1349.5 2302.5L1349.5 2302.4L1349.5 2302.3L1349.5 2302.2L1349.5 2302.1L1349.5 2301.9L1349.5 2301.8L1349.5 2301.7L1349.5 2301.6L1349.5 2301.5L1349.5 2301.4L1349.5 2301.3L1349.5 2301.2L1349.5 2301.1L1349.5 2301.0L1349.5 2300.9L1349.5 2300.8L1349.5 2300.7L1349.5 2300.6L1349.5 2300.4L1349.5 2300.3L1349.5 2300.2L1349.5 2300.1L1349.5 2300.0L1349.5 2299.9L1349.5 2299.8L1349.5 2299.7L1349.5 2299.6L1349.5 2299.5L1349.5 2299.4L1349.5 2299.3L1349.5 2299.2L1349.5 2299.1L1349.5 2299.0L1349.5 2298.8L1349.5 2298.7L1349.5 2298.6L1349.5 2298.5L1349.5 2298.4L1349.5 2298.3L1349.5 2298.2L1349.5 2298.1L1349.5 2298.0L1349.5 2297.9L1349.5 2297.8L1349.5 2297.7L1349.5 2297.6L1349.5 2297.5L1349.5 2297.4L1349.5 2297.2L1349.5 2297.1L1349.5 2297.0L1349.5 2296.9L1349.5 2296.8L1349.5 2296.7L1349.5 2296.6L1349.5 2296.5L1349.5 2296.4L1349.5 2296.3L1349.5 2296.2L1349.5 2296.1L1349.5 2296.0L1349.5 2295.9L1349.5 2295.7L1349.5 2295.6L1349.5 2295.5L1349.5 2295.4L1349.5 2295.3L1349.5 2295.2L1349.5 2295.1L1349.5 2295.0L1349.5 2294.9L1349.5 2294.8L1349.5 2294.7L1349.5 2294.6L1349.5 2294.5L1349.5 2294.4L1349.5 2294.3L1349.5 2294.1L1349.5 2294.0L1349.5 2293.9L1349.5 2293.8L1349.5 2293.7L1349.5 2293.6L1349.5 2293.5L1349.5 2293.4L1349.5 2293.3L1349.5 2293.2L1349.5 2293.1L1349.5 2293.0L1349.5 2292.9L1349.5 2292.8L1349.5 2292.6L1349.5 2292.5L1349.5 2292.4L1349.5 2292.3L1349.5 2292.2L1349.5 2292.1L1349.5 2292.0L1349.5 2291.9L1349.5 2291.8L1349.5 2291.7L1349.5 2291.6L1349.5 2291.5L1349.5 2291.4L1349.5 2291.3L1349.5 2291.2L1349.5 2291.0L1349.5 2290.9L1349.5 2290.8L1349.5 2290.7L1349.5 2290.6L1349.5 2290.5L1349.5 2290.4L1349.5 2290.3L1349.5 2290.2L1349.5 2290.1L1349.5 2290.0L1349.5 2289.9L1349.5 2289.8L1349.5 2289.7L1349.5 2289.5L1349.5 2289.4L1349.5 2289.3L1349.5 2289.2L1349.5 2289.1L1349.5 2289.0L1349.5 2288.9L1349.5 2288.8L1349.5 2288.7L1349.5 2288.6L1349.5 2288.5L1349.5 2288.4L1349.4 2288.3L1349.4 2288.2L1349.4 2288.1L1349.4 2287.9L1349.4 2287.8L1349.3 2287.7L1349.3 2287.6L1349.3 2287.5L1349.2 2287.4L1349.2 2287.3L1349.1 2287.2L1349.0 2287.1L1349.0 2287.0L1348.9 2286.9L1348.8 2286.8L1348.6 2286.7L1348.5 2286.6L1348.4 2286.5L1348.2 2286.3L1348.0 2286.2L1347.8 2286.1L1347.6 2286.0L1347.3 2285.9L1347.0 2285.8L1346.7 2285.7L1346.4 2285.6L1346.0 2285.5L1345.7 2285.4L1345.3 2285.3L1344.8 2285.2L1344.4 2285.1L1343.9 2285.0L1343.4 2284.8L1342.8 2284.7L1342.3 2284.6L1341.7 2284.5L1341.1 2284.4L1340.5 2284.3L1339.9 2284.2L1339.3 2284.1L1338.7 2284.0L1338.1 2283.9L1337.6 2283.8L1337.0 2283.7L1336.5 2283.6L1336.0 2283.5L1335.5 2283.4L1335.0 2283.2L1334.6 2283.1L1334.3 2283.0L1334.0 2282.9L1333.7 2282.8L1333.5 2282.7L1333.4 2282.6L1333.3 2282.5L1333.3 2282.4L1333.3 2282.3L1333.4 2282.2L1333.5 2282.1L1333.8 2282.0L1334.0 2281.9L1334.3 2281.7L1334.7 2281.6L1335.1 2281.5L1335.6 2281.4L1336.1 2281.3L1336.6 2281.2L1337.1 2281.1L1337.7 2281.0L1338.3 2280.9L1338.9 2280.8L1339.5 2280.7L1340.1 2280.6L1340.7 2280.5L1341.2 2280.4L1341.8 2280.3L1342.4 2280.1L1342.9 2280.0L1343.5 2279.9L1344.0 2279.8L1344.4 2279.7L1344.9 2279.6L1345.3 2279.5L1345.7 2279.4L1346.1 2279.3L1346.5 2279.2L1346.8 2279.1L1347.1 2279.0L1347.4 2278.9L1347.6 2278.8L1347.8 2278.7L1348.0 2278.5L1348.2 2278.4L1348.4 2278.3L1348.5 2278.2L1348.7 2278.1L1348.8 2278.0L1348.9 2277.9L1349.0 2277.8L1349.0 2277.7L1349.1 2277.6L1349.1 2277.5L1349.2 2277.4L1349.2 2277.3L1349.2 2277.2L1349.3 2277.0L1349.3 2276.9L1349.3 2276.8L1349.3 2276.7L1349.2 2276.6L1349.2 2276.5L1349.2 2276.4L1349.1 2276.3L1349.1 2276.2L1349.0 2276.1L1349.0 2276.0L1348.9 2275.9L1348.8 2275.8L1348.7 2275.7L1348.5 2275.6L1348.4 2275.4L1348.2 2275.3L1348.0 2275.2L1347.8 2275.1L1347.6 2275.0L1347.3 2274.9L1347.1 2274.8L1346.8 2274.7L1346.4 2274.6L1346.1 2274.5L1345.7 2274.4L1345.3 2274.3L1344.9 2274.2L1344.4 2274.1L1343.9 2273.9L1343.4 2273.8L1342.9 2273.7L1342.3 2273.6L1341.8 2273.5L1341.2 2273.4L1340.6 2273.3L1340.0 2273.2L1339.4 2273.1L1338.8 2273.0L1338.2 2272.9L1337.6 2272.8L1337.1 2272.7L1336.5 2272.6L1336.0 2272.5L1335.5 2272.3L1335.1 2272.2L1334.7 2272.1L1334.3 2272.0L1334.0 2271.9L1333.7 2271.8L1333.5 2271.7L1333.4 2271.6L1333.3 2271.5L1333.3 2271.4L1365.7 2271.4L1365.7 2271.5L1365.6 2271.6L1365.5 2271.7L1365.3 2271.8L1365.0 2271.9L1364.7 2272.0L1364.3 2272.1L1363.9 2272.2L1363.5 2272.3L1363.0 2272.5L1362.5 2272.6L1361.9 2272.7L1361.4 2272.8L1360.8 2272.9L1360.2 2273.0L1359.6 2273.1L1359.0 2273.2L1358.4 2273.3L1357.8 2273.4L1357.2 2273.5L1356.7 2273.6L1356.1 2273.7L1355.6 2273.8L1355.1 2273.9L1354.6 2274.1L1354.1 2274.2L1353.7 2274.3L1353.3 2274.4L1352.9 2274.5L1352.6 2274.6L1352.2 2274.7L1351.9 2274.8L1351.7 2274.9L1351.4 2275.0L1351.2 2275.1L1351.0 2275.2L1350.8 2275.3L1350.6 2275.4L1350.5 2275.6L1350.3 2275.7L1350.2 2275.8L1350.1 2275.9L1350.0 2276.0L1350.0 2276.1L1349.9 2276.2L1349.9 2276.3L1349.8 2276.4L1349.8 2276.5L1349.8 2276.6L1349.7 2276.7L1349.7 2276.8L1349.7 2276.9L1349.7 2277.0L1349.8 2277.2L1349.8 2277.3L1349.8 2277.4L1349.9 2277.5L1349.9 2277.6L1350.0 2277.7L1350.0 2277.8L1350.1 2277.9L1350.2 2278.0L1350.3 2278.1L1350.5 2278.2L1350.6 2278.3L1350.8 2278.4L1351.0 2278.5L1351.2 2278.7L1351.4 2278.8L1351.6 2278.9L1351.9 2279.0L1352.2 2279.1L1352.5 2279.2L1352.9 2279.3L1353.3 2279.4L1353.7 2279.5L1354.1 2279.6L1354.6 2279.7L1355.0 2279.8L1355.5 2279.9L1356.1 2280.0L1356.6 2280.1L1357.2 2280.3L1357.8 2280.4L1358.3 2280.5L1358.9 2280.6L1359.5 2280.7L1360.1 2280.8L1360.7 2280.9L1361.3 2281.0L1361.9 2281.1L1362.4 2281.2L1362.9 2281.3L1363.4 2281.4L1363.9 2281.5L1364.3 2281.6L1364.7 2281.7L1365.0 2281.9L1365.2 2282.0L1365.5 2282.1L1365.6 2282.2L1365.7 2282.3L1365.7 2282.4L1365.7 2282.5L1365.6 2282.6L1365.5 2282.7L1365.3 2282.8L1365.0 2282.9L1364.7 2283.0L1364.4 2283.1L1364.0 2283.2L1363.5 2283.4L1363.0 2283.5L1362.5 2283.6L1362.0 2283.7L1361.4 2283.8L1360.9 2283.9L1360.3 2284.0L1359.7 2284.1L1359.1 2284.2L1358.5 2284.3L1357.9 2284.4L1357.3 2284.5L1356.7 2284.6L1356.2 2284.7L1355.6 2284.8L1355.1 2285.0L1354.6 2285.1L1354.2 2285.2L1353.7 2285.3L1353.3 2285.4L1353.0 2285.5L1352.6 2285.6L1352.3 2285.7L1352.0 2285.8L1351.7 2285.9L1351.4 2286.0L1351.2 2286.1L1351.0 2286.2L1350.8 2286.3L1350.6 2286.5L1350.5 2286.6L1350.4 2286.7L1350.2 2286.8L1350.1 2286.9L1350.0 2287.0L1350.0 2287.1L1349.9 2287.2L1349.8 2287.3L1349.8 2287.4L1349.7 2287.5L1349.7 2287.6L1349.7 2287.7L1349.6 2287.8L1349.6 2287.9L1349.6 2288.1L1349.6 2288.2L1349.6 2288.3L1349.5 2288.4L1349.5 2288.5L1349.5 2288.6L1349.5 2288.7L1349.5 2288.8L1349.5 2288.9L1349.5 2289.0L1349.5 2289.1L1349.5 2289.2L1349.5 2289.3L1349.5 2289.4L1349.5 2289.5L1349.5 2289.7L1349.5 2289.8L1349.5 2289.9L1349.5 2290.0L1349.5 2290.1L1349.5 2290.2L1349.5 2290.3L1349.5 2290.4L1349.5 2290.5L1349.5 2290.6L1349.5 2290.7L1349.5 2290.8L1349.5 2290.9L1349.5 2291.0L1349.5 2291.2L1349.5 2291.3L1349.5 2291.4L1349.5 2291.5L1349.5 2291.6L1349.5 2291.7L1349.5 2291.8L1349.5 2291.9L1349.5 2292.0L1349.5 2292.1L1349.5 2292.2L1349.5 2292.3L1349.5 2292.4L1349.5 2292.5L1349.5 2292.6L1349.5 2292.8L1349.5 2292.9L1349.5 2293.0L1349.5 2293.1L1349.5 2293.2L1349.5 2293.3L1349.5 2293.4L1349.5 2293.5L1349.5 2293.6L1349.5 2293.7L1349.5 2293.8L1349.5 2293.9L1349.5 2294.0L1349.5 2294.1L1349.5 2294.3L1349.5 2294.4L1349.5 2294.5L1349.5 2294.6L1349.5 2294.7L1349.5 2294.8L1349.5 2294.9L1349.5 2295.0L1349.5 2295.1L1349.5 2295.2L1349.5 2295.3L1349.5 2295.4L1349.5 2295.5L1349.5 2295.6L1349.5 2295.7L1349.5 2295.9L1349.5 2296.0L1349.5 2296.1L1349.5 2296.2L1349.5 2296.3L1349.5 2296.4L1349.5 2296.5L1349.5 2296.6L1349.5 2296.7L1349.5 2296.8L1349.5 2296.9L1349.5 2297.0L1349.5 2297.1L1349.5 2297.2L1349.5 2297.4L1349.5 2297.5L1349.5 2297.6L1349.5 2297.7L1349.5 2297.8L1349.5 2297.9L1349.5 2298.0L1349.5 2298.1L1349.5 2298.2L1349.5 2298.3L1349.5 2298.4L1349.5 2298.5L1349.5 2298.6L1349.5 2298.7L1349.5 2298.8L1349.5 2299.0L1349.5 2299.1L1349.5 2299.2L1349.5 2299.3L1349.5 2299.4L1349.5 2299.5L1349.5 2299.6L1349.5 2299.7L1349.5 2299.8L1349.5 2299.9L1349.5 2300.0L1349.5 2300.1L1349.5 2300.2L1349.5 2300.3L1349.5 2300.4L1349.5 2300.6L1349.5 2300.7L1349.5 2300.8L1349.5 2300.9L1349.5 2301.0L1349.5 2301.1L1349.5 2301.2L1349.5 2301.3L1349.5 2301.4L1349.5 2301.5L1349.5 2301.6L1349.5 2301.7L1349.5 2301.8L1349.5 2301.9L1349.5 2302.1L1349.5 2302.2L1349.5 2302.3L1349.5 2302.4L1349.5 2302.5L1349.5 2302.6L1349.5 2302.7L1349.5 2302.8L1349.5 2302.9L1349.5 2303.0L1349.5 2303.1L1349.5 2303.2L1349.5 2303.3L1349.5 2303.4L1349.5 2303.5L1349.5 2303.7L1349.5 2303.8L1349.5 2303.9L1349.5 2304.0L1349.5 2304.1L1349.5 2304.2L1349.5 2304.3L1349.5 2304.4L1349.5 2304.5L1349.5 2304.6L1349.5 2304.7L1349.5 2304.8L1349.5 2304.9L1349.5 2305.0L1349.5 2305.2L1349.5 2305.3L1349.5 2305.4L1349.5 2305.5L1349.5 2305.6L1349.5 2305.7L1349.5 2305.8L1349.5 2305.9L1349.5 2306.0L1349.5 2306.1L1349.5 2306.2L1349.5 2306.3L1349.5 2306.4L1349.5 2306.5L1349.5 2306.6L1349.5 2306.8L1349.5 2306.9L1349.5 2307.0L1349.5 2307.1L1349.5 2307.2L1349.5 2307.3L1349.5 2307.4L1349.5 2307.5L1349.5 2307.6L1349.5 2307.7L1349.5 2307.8L1349.5 2307.9L1349.5 2308.0L1349.5 2308.1L1349.5 2308.3L1349.5 2308.4L1349.5 2308.5L1349.5 2308.6L1349.5 2308.7L1349.5 2308.8L1349.5 2308.9L1349.5 2309.0L1349.5 2309.1L1349.5 2309.2L1349.5 2309.3L1349.5 2309.4L1349.5 2309.5L1349.5 2309.6L1349.5 2309.7L1349.5 2309.9L1349.5 2310.0L1349.5 2310.1L1349.5 2310.2L1349.5 2310.3L1349.5 2310.4L1349.5 2310.5L1349.5 2310.6L1349.5 2310.7L1349.5 2310.8L1349.5 2310.9L1349.5 2311.0L1349.5 2311.1L1349.5 2311.2L1349.5 2311.3L1349.5 2311.5L1349.5 2311.6L1349.5 2311.7L1349.5 2311.8L1349.5 2311.9L1349.5 2312.0L1349.5 2312.1L1349.5 2312.2L1349.5 2312.3L1349.5 2312.4L1349.5 2312.5L1349.5 2312.6L1349.5 2312.7L1349.5 2312.8L1349.5 2313.0L1349.5 2313.1L1349.5 2313.2L1349.5 2313.3L1349.5 2313.4L1349.5 2313.5L1349.5 2313.6L1349.5 2313.7L1349.5 2313.8L1349.5 2313.9L1349.5 2314.0L1349.5 2314.1L1349.5 2314.2L1349.5 2314.3L1349.5 2314.4L1349.5 2314.6L1349.5 2314.7L1349.5 2314.8L1349.5 2314.9L1349.5 2315.0L1349.5 2315.1L1349.5 2315.2L1349.5 2315.3L1349.5 2315.4L1349.5 2315.5L1349.5 2315.6L1349.5 2315.7L1349.5 2315.8L1349.5 2315.9L1349.5 2316.1L1349.5 2316.2L1349.5 2316.3L1349.5 2316.4L1349.5 2316.5L1349.5 2316.6L1349.5 2316.7L1349.5 2316.8L1349.5 2316.9L1349.5 2317.0L1349.5 2317.1L1349.5 2317.2L1349.5 2317.3L1349.5 2317.4L1349.5 2317.5L1349.5 2317.7L1349.5 2317.8L1349.5 2317.9L1349.5 2318.0L1349.5 2318.1L1349.5 2318.2L1349.5 2318.3L1349.5 2318.4L1349.5 2318.5L1349.5 2318.6L1349.5 2318.7L1349.5 2318.8L1349.5 2318.9L1349.5 2319.0L1349.5 2319.2L1349.5 2319.3L1349.5 2319.4L1349.5 2319.5L1349.5 2319.6L1349.5 2319.7L1349.5 2319.8L1349.5 2319.9L1349.5 2320.0L1349.5 2320.1L1349.5 2320.2L1349.5 2320.3L1349.5 2320.4L1349.5 2320.5L1349.5 2320.6L1349.5 2320.8L1349.5 2320.9L1349.5 2321.0L1349.5 2321.1L1349.5 2321.2L1349.5 2321.3L1349.5 2321.4L1349.5 2321.5L1349.5 2321.6L1349.5 2321.7L1349.5 2321.8L1349.5 2321.9L1349.5 2322.0L1349.5 2322.1L1349.5 2322.2L1349.5 2322.4L1349.5 2322.5L1349.5 2322.6L1349.5 2322.7L1349.5 2322.8L1349.5 2322.9L1349.5 2323.0L1349.5 2323.1L1349.5 2323.2L1349.5 2323.3L1349.5 2323.4L1349.5 2323.5L1349.5 2323.6L1349.5 2323.7L1349.5 2323.9L1349.5 2324.0L1349.5 2324.1L1349.5 2324.2L1349.5 2324.3L1349.5 2324.4L1349.5 2324.5L1349.5 2324.6L1349.5 2324.7L1349.5 2324.8L1349.5 2324.9L1349.5 2325.0L1349.5 2325.1L1349.5 2325.2L1349.5 2325.3L1349.5 2325.5L1349.5 2325.6L1349.5 2325.7L1349.5 2325.8L1349.5 2325.9L1349.5 2326.0L1349.5 2326.1L1349.5 2326.2L1349.5 2326.3L1349.5 2326.4L1349.5 2326.5L1349.5 2326.6L1349.5 2326.7L1349.5 2326.8L1349.5 2327.0L1349.5 2327.1L1349.5 2327.2L1349.5 2327.3L1349.5 2327.4L1349.5 2327.5L1349.5 2327.6L1349.5 2327.7L1349.5 2327.8L1349.5 2327.9L1349.5 2328.0L1349.5 2328.1L1349.5 2328.2L1349.5 2328.3L1349.5 2328.4L1349.5 2328.6L1349.5 2328.7L1349.5 2328.8L1349.5 2328.9L1349.5 2329.0L1349.5 2329.1L1349.5 2329.2L1349.5 2329.3L1349.5 2329.4L1349.5 2329.5L1349.5 2329.6L1349.5 2329.7L1349.5 2329.8L1349.5 2329.9L1349.5 2330.1L1349.5 2330.2L1349.5 2330.3L1349.5 2330.4L1349.5 2330.5L1349.5 2330.6L1349.5 2330.7L1349.5 2330.8L1349.5 2330.9L1349.5 2331.0L1349.5 2331.1L1349.5 2331.2L1349.5 2331.3L1349.5 2331.4L1349.5 2331.5L1349.5 2331.7L1349.5 2331.8L1349.5 2331.9L1349.5 2332.0L1349.5 2332.1L1349.5 2332.2L1349.5 2332.3L1349.5 2332.4L1349.5 2332.5L1349.5 2332.6L1349.5 2332.7L1349.5 2332.8L1349.5 2332.9L1349.5 2333.0L1349.5 2333.1L1349.5 2333.3L1349.5 2333.4L1349.5 2333.5L1349.5 2333.6L1349.5 2333.7L1349.5 2333.8L1349.6 2333.9L1349.6 2334.0L1349.6 2334.1L1349.6 2334.2L1349.6 2334.3L1349.6 2334.4L1349.7 2334.5L1349.7 2334.6L1349.7 2334.8L1349.8 2334.9L1349.9 2335.0L1349.9 2335.1L1350.0 2335.2L1350.1 2335.3L1350.2 2335.4L1350.3 2335.5L1350.5 2335.6L1350.6 2335.7L1350.8 2335.8L1351.0 2335.9L1351.3 2336.0L1351.6 2336.1L1351.9 2336.2L1352.2 2336.4L1352.6 2336.5L1353.0 2336.6L1353.5 2336.7L1354.0 2336.8L1354.6 2336.9L1355.3 2337.0L1356.0 2337.1L1356.7 2337.2L1357.6 2337.3L1358.5 2337.4L1359.5 2337.5L1360.5 2337.6L1361.6 2337.7L1362.8 2337.9L1364.1 2338.0L1365.5 2338.1L1366.9 2338.2L1368.5 2338.3L1370.1 2338.4L1371.8 2338.5L1373.5 2338.6L1375.4 2338.7L1377.3 2338.8L1379.3 2338.9L1381.4 2339.0L1383.5 2339.1L1385.7 2339.2L1388.0 2339.3L1390.3 2339.5L1392.7 2339.6L1395.1 2339.7L1397.6 2339.8L1400.1 2339.9L1402.7 2340.0L1405.3 2340.1L1407.9 2340.2L1410.5 2340.3L1413.1 2340.4L1415.8 2340.5L1418.4 2340.6L1421.1 2340.7L1423.7 2340.8L1426.3 2341.0L1428.9 2341.1L1431.5 2341.2L1434.0 2341.3L1436.5 2341.4L1438.9 2341.5L1441.2 2341.6L1443.5 2341.7L1445.6 2341.8L1447.7 2341.9L1449.7 2342.0L1451.5 2342.1L1453.2 2342.2L1454.8 2342.3L1456.2 2342.4L1457.5 2342.6L1458.6 2342.7L1459.6 2342.8L1460.4 2342.9L1460.9 2343.0L1461.3 2343.1L1461.6 2343.2L1461.6 2343.3L1461.4 2343.4L1461.0 2343.5L1460.4 2343.6L1459.7 2343.7L1458.7 2343.8L1457.5 2343.9L1456.2 2344.0L1454.7 2344.2L1453.0 2344.3L1451.2 2344.4L1449.2 2344.5L1447.0 2344.6L1444.8 2344.7L1442.4 2344.8L1439.9 2344.9L1437.2 2345.0L1434.6 2345.1L1431.8 2345.2L1429.0 2345.3L1426.1 2345.4L1423.2 2345.5L1420.2 2345.7L1417.3 2345.8L1414.3 2345.9L1411.3 2346.0L1408.4 2346.1Z" fill="#00B6EB"/>
<path d="M1597.8 2294.2L1597.8 2290.9L1597.8 2287.7L1597.8 2284.5L1597.8 2281.2L1597.8 2278.0L1597.8 2274.8L1597.8 2271.5L1597.8 2268.3L1597.8 2265.1L1597.8 2261.8L1597.8 2258.6L1597.8 2255.4L1597.8 2252.1L1597.8 2248.9L1597.8 2245.7L1597.8 2242.4L1597.8 2239.2L1597.8 2236.0L1597.8 2232.7L1597.8 2229.5L1597.8 2226.3L1597.8 2223.0L1597.8 2219.8L1597.8 2216.6L1597.8 2213.3L1597.8 2210.1L1597.8 2206.9L1597.8 2203.6L1597.8 2200.4L1597.8 2197.2L1597.8 2193.9L1597.8 2190.7L1597.8 2187.5L1597.8 2184.2L1597.8 2181.0L1597.8 2177.8L1597.8 2174.5L1597.8 2171.3L1597.8 2168.1L1597.8 2164.8L1597.8 2161.6L1597.8 2158.4L1597.8 2155.1L1597.8 2151.9L1597.8 2148.6L1597.8 2145.4L1597.8 2142.2L1597.8 2138.9L1597.8 2135.7L1597.8 2132.5L1597.8 2129.2L1597.8 2126.0L1597.8 2122.8L1597.8 2119.5L1597.8 2116.3L1597.8 2113.1L1597.8 2109.8L1597.8 2106.6L1597.8 2103.4L1597.8 2100.1L1597.8 2096.9L1597.8 2093.7L1597.8 2090.4L1597.8 2087.2L1597.8 2084.0L1597.9 2080.7L1597.9 2077.5L1597.9 2074.3L1597.9 2071.0L1597.9 2067.8L1597.9 2064.6L1597.9 2061.3L1597.9 2058.1L1597.9 2054.9L1597.9 2051.6L1597.9 2048.4L1597.9 2045.2L1597.9 2041.9L1597.9 2038.7L1597.9 2035.5L1597.9 2032.2L1597.9 2029.0L1597.9 2025.8L1597.9 2022.5L1597.9 2019.3L1597.9 2016.1L1597.9 2012.8L1597.9 2009.6L1597.9 2006.4L1597.9 2003.1L1597.9 1999.9L1597.9 1996.7L1597.9 1993.4L1597.9 1990.2L1597.9 1987.0L1597.9 1983.7L1597.9 1980.5L1598.0 1977.3L1598.0 1974.0L1598.0 1970.8L1598.0 1967.6L1598.0 1964.3L1598.0 1961.1L1598.0 1957.9L1598.0 1954.6L1598.0 1951.4L1598.0 1948.2L1598.0 1944.9L1598.0 1941.7L1598.0 1938.5L1598.0 1935.2L1598.0 1932.0L1598.0 1928.8L1598.0 1925.5L1598.0 1922.3L1598.0 1919.1L1598.0 1915.8L1598.0 1912.6L1598.0 1909.4L1598.0 1906.1L1598.0 1902.9L1598.0 1899.7L1598.0 1896.4L1598.0 1893.2L1598.0 1890.0L1598.0 1886.7L1598.0 1883.5L1598.0 1880.3L1598.0 1877.0L1598.0 1873.8L1598.0 1870.6L1598.0 1867.3L1598.0 1864.1L1598.0 1860.8L1598.0 1857.6L1598.0 1854.4L1598.0 1851.1L1598.0 1847.9L1598.0 1844.7L1598.0 1841.4L1598.0 1838.2L1598.0 1835.0L1598.0 1831.7L1598.0 1828.5L1598.1 1825.3L1598.1 1822.0L1598.1 1818.8L1598.1 1815.6L1598.1 1812.3L1598.1 1809.1L1598.1 1805.9L1598.1 1802.6L1598.1 1799.4L1598.1 1796.2L1598.1 1792.9L1598.1 1789.7L1598.1 1786.5L1598.1 1783.2L1598.1 1780.0L1598.1 1776.8L1598.1 1773.5L1598.1 1770.3L1598.1 1767.1L1598.1 1763.8L1598.1 1760.6L1598.1 1757.4L1598.1 1754.1L1598.1 1750.9L1598.1 1747.7L1598.1 1744.4L1598.1 1741.2L1598.1 1738.0L1598.1 1734.7L1598.1 1731.5L1598.1 1728.3L1598.1 1725.0L1598.1 1721.8L1598.1 1718.6L1598.1 1715.3L1598.1 1712.1L1598.1 1708.9L1598.1 1705.6L1598.1 1702.4L1598.1 1699.2L1598.1 1695.9L1598.0 1692.7L1598.0 1689.5L1598.0 1686.2L1598.0 1683.0L1598.0 1679.8L1598.0 1676.5L1598.0 1673.3L1598.0 1670.1L1598.0 1666.8L1598.0 1663.6L1598.0 1660.4L1598.0 1657.1L1598.0 1653.9L1598.0 1650.7L1598.0 1647.4L1598.0 1644.2L1598.0 1641.0L1598.0 1637.7L1598.0 1634.5L1598.0 1631.3L1598.0 1628.0L1598.0 1624.8L1598.0 1621.6L1598.0 1618.3L1598.0 1615.1L1598.0 1611.9L1598.0 1608.6L1598.0 1605.4L1598.0 1602.2L1598.0 1598.9L1598.0 1595.7L1598.0 1592.5L1598.0 1589.2L1598.0 1586.0L1598.0 1582.8L1598.0 1579.5L1598.0 1576.3L1598.0 1573.1L1598.0 1569.8L1598.0 1566.6L1598.0 1563.3L1598.0 1560.1L1598.0 1556.9L1598.0 1553.6L1598.0 1550.4L1598.0 1547.2L1598.0 1543.9L1598.0 1540.7L1598.0 1537.5L1598.0 1534.2L1598.0 1531.0L1598.0 1527.8L1598.0 1524.5L1598.0 1521.3L1598.0 1518.1L1598.0 1514.8L1598.0 1511.6L1598.0 1508.4L1598.0 1505.1L1598.0 1501.9L1598.0 1498.7L1598.0 1495.4L1598.0 1492.2L1598.0 1489.0L1598.0 1485.7L1598.0 1482.5L1598.0 1479.3L1598.0 1476.0L1598.0 1472.8L1598.0 1469.6L1598.0 1466.3L1598.0 1463.1L1598.0 1459.9L1598.0 1456.6L1599.1 1456.6L1599.1 1459.9L1599.1 1463.1L1599.1 1466.3L1599.1 1469.6L1599.1 1472.8L1599.1 1476.0L1599.1 1479.3L1599.1 1482.5L1599.1 1485.7L1599.1 1489.0L1599.1 1492.2L1599.1 1495.4L1599.1 1498.7L1599.1 1501.9L1599.1 1505.1L1599.1 1508.4L1599.1 1511.6L1599.1 1514.8L1599.1 1518.1L1599.1 1521.3L1599.1 1524.5L1599.1 1527.8L1599.1 1531.0L1599.1 1534.2L1599.1 1537.5L1599.1 1540.7L1599.1 1543.9L1599.1 1547.2L1599.1 1550.4L1599.1 1553.6L1599.1 1556.9L1599.1 1560.1L1599.1 1563.3L1599.1 1566.6L1599.1 1569.8L1599.1 1573.1L1599.1 1576.3L1599.1 1579.5L1599.1 1582.8L1599.1 1586.0L1599.1 1589.2L1599.1 1592.5L1599.1 1595.7L1599.1 1598.9L1599.1 1602.2L1599.1 1605.4L1599.1 1608.6L1599.1 1611.9L1599.1 1615.1L1599.1 1618.3L1599.1 1621.6L1599.1 1624.8L1599.1 1628.0L1599.1 1631.3L1599.1 1634.5L1599.1 1637.7L1599.1 1641.0L1599.1 1644.2L1599.1 1647.4L1599.1 1650.7L1599.1 1653.9L1599.1 1657.1L1599.1 1660.4L1599.1 1663.6L1599.1 1666.8L1599.1 1670.1L1599.1 1673.3L1599.1 1676.5L1599.1 1679.8L1599.1 1683.0L1599.1 1686.2L1599.1 1689.5L1599.1 1692.7L1599.0 1695.9L1599.0 1699.2L1599.0 1702.4L1599.0 1705.6L1599.0 1708.9L1599.0 1712.1L1599.0 1715.3L1599.0 1718.6L1599.0 1721.8L1599.0 1725.0L1599.0 1728.3L1599.0 1731.5L1599.0 1734.7L1599.0 1738.0L1599.0 1741.2L1599.0 1744.4L1599.0 1747.7L1599.0 1750.9L1599.0 1754.1L1599.0 1757.4L1599.0 1760.6L1599.0 1763.8L1599.0 1767.1L1599.0 1770.3L1599.0 1773.5L1599.0 1776.8L1599.0 1780.0L1599.0 1783.2L1599.0 1786.5L1599.0 1789.7L1599.0 1792.9L1599.0 1796.2L1599.0 1799.4L1599.0 1802.6L1599.0 1805.9L1599.0 1809.1L1599.0 1812.3L1599.0 1815.6L1599.0 1818.8L1599.0 1822.0L1599.0 1825.3L1599.1 1828.5L1599.1 1831.7L1599.1 1835.0L1599.1 1838.2L1599.1 1841.4L1599.1 1844.7L1599.1 1847.9L1599.1 1851.1L1599.1 1854.4L1599.1 1857.6L1599.1 1860.8L1599.1 1864.1L1599.1 1867.3L1599.1 1870.6L1599.1 1873.8L1599.1 1877.0L1599.1 1880.3L1599.1 1883.5L1599.1 1886.7L1599.1 1890.0L1599.1 1893.2L1599.1 1896.4L1599.1 1899.7L1599.1 1902.9L1599.1 1906.1L1599.1 1909.4L1599.1 1912.6L1599.1 1915.8L1599.1 1919.1L1599.1 1922.3L1599.1 1925.5L1599.1 1928.8L1599.1 1932.0L1599.1 1935.2L1599.1 1938.5L1599.1 1941.7L1599.1 1944.9L1599.1 1948.2L1599.1 1951.4L1599.1 1954.6L1599.1 1957.9L1599.1 1961.1L1599.1 1964.3L1599.1 1967.6L1599.1 1970.8L1599.1 1974.0L1599.1 1977.3L1599.2 1980.5L1599.2 1983.7L1599.2 1987.0L1599.2 1990.2L1599.2 1993.4L1599.2 1996.7L1599.2 1999.9L1599.2 2003.1L1599.2 2006.4L1599.2 2009.6L1599.2 2012.8L1599.2 2016.1L1599.2 2019.3L1599.2 2022.5L1599.2 2025.8L1599.2 2029.0L1599.2 2032.2L1599.2 2035.5L1599.2 2038.7L1599.2 2041.9L1599.2 2045.2L1599.2 2048.4L1599.2 2051.6L1599.2 2054.9L1599.2 2058.1L1599.2 2061.3L1599.2 2064.6L1599.2 2067.8L1599.2 2071.0L1599.2 2074.3L1599.2 2077.5L1599.2 2080.7L1599.3 2084.0L1599.3 2087.2L1599.3 2090.4L1599.3 2093.7L1599.3 2096.9L1599.3 2100.1L1599.3 2103.4L1599.3 2106.6L1599.3 2109.8L1599.3 2113.1L1599.3 2116.3L1599.3 2119.5L1599.3 2122.8L1599.3 2126.0L1599.3 2129.2L1599.3 2132.5L1599.3 2135.7L1599.3 2138.9L1599.3 2142.2L1599.3 2145.4L1599.3 2148.6L1599.3 2151.9L1599.3 2155.1L1599.3 2158.4L1599.3 2161.6L1599.3 2164.8L1599.3 2168.1L1599.3 2171.3L1599.3 2174.5L1599.3 2177.8L1599.3 2181.0L1599.3 2184.2L1599.3 2187.5L1599.3 2190.7L1599.3 2193.9L1599.3 2197.2L1599.3 2200.4L1599.3 2203.6L1599.3 2206.9L1599.3 2210.1L1599.3 2213.3L1599.3 2216.6L1599.3 2219.8L1599.3 2223.0L1599.3 2226.3L1599.3 2229.5L1599.3 2232.7L1599.3 2236.0L1599.3 2239.2L1599.3 2242.4L1599.3 2245.7L1599.3 2248.9L1599.3 2252.1L1599.3 2255.4L1599.3 2258.6L1599.3 2261.8L1599.3 2265.1L1599.3 2268.3L1599.3 2271.5L1599.3 2274.8L1599.3 2278.0L1599.3 2281.2L1599.3 2284.5L1599.3 2287.7L1599.3 2290.9L1599.3 2294.2Z" fill="#A58AFF"/>
<path d="M1835.8 2321.1L1835.5 2320.2L1835.2 2319.4L1834.9 2318.6L1834.6 2317.8L1834.3 2316.9L1834.0 2316.1L1833.8 2315.3L1833.6 2314.5L1833.4 2313.7L1833.3 2312.8L1833.1 2312.0L1833.0 2311.2L1833.0 2310.4L1832.9 2309.5L1832.9 2308.7L1832.9 2307.9L1832.9 2307.1L1833.0 2306.3L1833.0 2305.4L1833.1 2304.6L1833.3 2303.8L1833.4 2303.0L1833.6 2302.2L1833.8 2301.3L1834.0 2300.5L1834.2 2299.7L1834.5 2298.9L1834.8 2298.0L1835.1 2297.2L1835.4 2296.4L1835.7 2295.6L1836.0 2294.8L1836.3 2293.9L1836.7 2293.1L1837.0 2292.3L1837.4 2291.5L1837.8 2290.6L1838.1 2289.8L1838.5 2289.0L1838.9 2288.2L1839.3 2287.4L1839.6 2286.5L1840.0 2285.7L1840.4 2284.9L1840.7 2284.1L1841.1 2283.2L1841.5 2282.4L1841.8 2281.6L1842.1 2280.8L1842.5 2280.0L1842.8 2279.1L1843.1 2278.3L1843.4 2277.5L1843.7 2276.7L1843.9 2275.8L1844.2 2275.0L1844.4 2274.2L1844.7 2273.4L1844.9 2272.6L1845.1 2271.7L1845.3 2270.9L1845.5 2270.1L1845.7 2269.3L1845.8 2268.5L1846.0 2267.6L1846.1 2266.8L1846.2 2266.0L1846.4 2265.2L1846.5 2264.3L1846.6 2263.5L1846.7 2262.7L1846.7 2261.9L1846.8 2261.1L1846.9 2260.2L1846.9 2259.4L1847.0 2258.6L1847.0 2257.8L1847.0 2256.9L1847.0 2256.1L1847.1 2255.3L1847.1 2254.5L1847.1 2253.7L1847.1 2252.8L1847.1 2252.0L1847.0 2251.2L1847.0 2250.4L1847.0 2249.5L1847.0 2248.7L1846.9 2247.9L1846.9 2247.1L1846.9 2246.3L1846.8 2245.4L1846.8 2244.6L1846.7 2243.8L1846.7 2243.0L1846.6 2242.1L1846.5 2241.3L1846.5 2240.5L1846.4 2239.7L1846.3 2238.9L1846.3 2238.0L1846.2 2237.2L1846.2 2236.4L1846.1 2235.6L1846.0 2234.8L1846.0 2233.9L1845.9 2233.1L1845.8 2232.3L1845.8 2231.5L1845.7 2230.6L1845.7 2229.8L1845.6 2229.0L1845.6 2228.2L1845.5 2227.4L1845.5 2226.5L1845.4 2225.7L1845.4 2224.9L1845.4 2224.1L1845.3 2223.2L1845.3 2222.4L1845.3 2221.6L1845.3 2220.8L1845.3 2220.0L1845.2 2219.1L1845.2 2218.3L1845.2 2217.5L1845.2 2216.7L1845.2 2215.8L1845.2 2215.0L1845.2 2214.2L1845.2 2213.4L1845.2 2212.6L1845.2 2211.7L1845.2 2210.9L1845.2 2210.1L1845.2 2209.3L1845.2 2208.5L1845.2 2207.6L1845.2 2206.8L1845.2 2206.0L1845.2 2205.2L1845.2 2204.3L1845.2 2203.5L1845.2 2202.7L1845.2 2201.9L1845.2 2201.1L1845.2 2200.2L1845.2 2199.4L1845.2 2198.6L1845.2 2197.8L1845.2 2196.9L1845.2 2196.1L1845.3 2195.3L1845.3 2194.5L1845.3 2193.7L1845.3 2192.8L1845.4 2192.0L1845.4 2191.2L1845.4 2190.4L1845.5 2189.5L1845.5 2188.7L1845.5 2187.9L1845.6 2187.1L1845.6 2186.3L1845.7 2185.4L1845.7 2184.6L1845.8 2183.8L1845.9 2183.0L1845.9 2182.1L1846.0 2181.3L1846.1 2180.5L1846.1 2179.7L1846.2 2178.9L1846.3 2178.0L1846.3 2177.2L1846.4 2176.4L1846.5 2175.6L1846.5 2174.8L1846.6 2173.9L1846.6 2173.1L1846.7 2172.3L1846.8 2171.5L1846.8 2170.6L1846.9 2169.8L1846.9 2169.0L1847.0 2168.2L1847.0 2167.4L1847.1 2166.5L1847.1 2165.7L1847.2 2164.9L1847.2 2164.1L1847.2 2163.2L1847.3 2162.4L1847.3 2161.6L1847.3 2160.8L1847.4 2160.0L1847.4 2159.1L1847.4 2158.3L1847.4 2157.5L1847.4 2156.7L1847.4 2155.8L1847.5 2155.0L1847.5 2154.2L1847.5 2153.4L1847.5 2152.6L1847.5 2151.7L1847.5 2150.9L1847.5 2150.1L1847.5 2149.3L1847.5 2148.4L1847.5 2147.6L1847.5 2146.8L1847.5 2146.0L1847.5 2145.2L1847.4 2144.3L1847.4 2143.5L1847.4 2142.7L1847.4 2141.9L1847.4 2141.1L1847.3 2140.2L1847.3 2139.4L1847.3 2138.6L1847.3 2137.8L1847.2 2136.9L1847.2 2136.1L1847.2 2135.3L1847.1 2134.5L1847.1 2133.7L1847.0 2132.8L1847.0 2132.0L1846.9 2131.2L1846.9 2130.4L1846.8 2129.5L1846.8 2128.7L1846.7 2127.9L1846.6 2127.1L1846.6 2126.3L1846.5 2125.4L1846.5 2124.6L1846.4 2123.8L1846.3 2123.0L1846.3 2122.1L1846.2 2121.3L1846.1 2120.5L1846.1 2119.7L1846.0 2118.9L1846.0 2118.0L1845.9 2117.2L1845.9 2116.4L1845.8 2115.6L1845.8 2114.7L1845.8 2113.9L1845.7 2113.1L1845.7 2112.3L1845.7 2111.5L1845.6 2110.6L1845.6 2109.8L1845.6 2109.0L1845.6 2108.2L1849.6 2108.2L1849.6 2109.0L1849.6 2109.8L1849.6 2110.6L1849.5 2111.5L1849.5 2112.3L1849.5 2113.1L1849.4 2113.9L1849.4 2114.7L1849.4 2115.6L1849.3 2116.4L1849.3 2117.2L1849.2 2118.0L1849.2 2118.9L1849.1 2119.7L1849.1 2120.5L1849.0 2121.3L1848.9 2122.1L1848.9 2123.0L1848.8 2123.8L1848.7 2124.6L1848.7 2125.4L1848.6 2126.3L1848.6 2127.1L1848.5 2127.9L1848.4 2128.7L1848.4 2129.5L1848.3 2130.4L1848.3 2131.2L1848.2 2132.0L1848.2 2132.8L1848.1 2133.7L1848.1 2134.5L1848.0 2135.3L1848.0 2136.1L1848.0 2136.9L1847.9 2137.8L1847.9 2138.6L1847.9 2139.4L1847.9 2140.2L1847.8 2141.1L1847.8 2141.9L1847.8 2142.7L1847.8 2143.5L1847.8 2144.3L1847.7 2145.2L1847.7 2146.0L1847.7 2146.8L1847.7 2147.6L1847.7 2148.4L1847.7 2149.3L1847.7 2150.1L1847.7 2150.9L1847.7 2151.7L1847.7 2152.6L1847.7 2153.4L1847.7 2154.2L1847.7 2155.0L1847.8 2155.8L1847.8 2156.7L1847.8 2157.5L1847.8 2158.3L1847.8 2159.1L1847.8 2160.0L1847.9 2160.8L1847.9 2161.6L1847.9 2162.4L1848.0 2163.2L1848.0 2164.1L1848.0 2164.9L1848.1 2165.7L1848.1 2166.5L1848.2 2167.4L1848.2 2168.2L1848.3 2169.0L1848.3 2169.8L1848.4 2170.6L1848.4 2171.5L1848.5 2172.3L1848.6 2173.1L1848.6 2173.9L1848.7 2174.8L1848.7 2175.6L1848.8 2176.4L1848.9 2177.2L1848.9 2178.0L1849.0 2178.9L1849.1 2179.7L1849.1 2180.5L1849.2 2181.3L1849.3 2182.1L1849.3 2183.0L1849.4 2183.8L1849.5 2184.6L1849.5 2185.4L1849.6 2186.3L1849.6 2187.1L1849.7 2187.9L1849.7 2188.7L1849.7 2189.5L1849.8 2190.4L1849.8 2191.2L1849.8 2192.0L1849.9 2192.8L1849.9 2193.7L1849.9 2194.5L1849.9 2195.3L1850.0 2196.1L1850.0 2196.9L1850.0 2197.8L1850.0 2198.6L1850.0 2199.4L1850.0 2200.2L1850.0 2201.1L1850.0 2201.9L1850.0 2202.7L1850.0 2203.5L1850.0 2204.3L1850.0 2205.2L1850.0 2206.0L1850.0 2206.8L1850.0 2207.6L1850.0 2208.5L1850.0 2209.3L1850.0 2210.1L1850.0 2210.9L1850.0 2211.7L1850.0 2212.6L1850.0 2213.4L1850.0 2214.2L1850.0 2215.0L1850.0 2215.8L1850.0 2216.7L1850.0 2217.5L1850.0 2218.3L1850.0 2219.1L1849.9 2220.0L1849.9 2220.8L1849.9 2221.6L1849.9 2222.4L1849.9 2223.2L1849.8 2224.1L1849.8 2224.9L1849.8 2225.7L1849.7 2226.5L1849.7 2227.4L1849.6 2228.2L1849.6 2229.0L1849.5 2229.8L1849.5 2230.6L1849.4 2231.5L1849.4 2232.3L1849.3 2233.1L1849.2 2233.9L1849.2 2234.8L1849.1 2235.6L1849.0 2236.4L1849.0 2237.2L1848.9 2238.0L1848.9 2238.9L1848.8 2239.7L1848.7 2240.5L1848.7 2241.3L1848.6 2242.1L1848.5 2243.0L1848.5 2243.8L1848.4 2244.6L1848.4 2245.4L1848.3 2246.3L1848.3 2247.1L1848.3 2247.9L1848.2 2248.7L1848.2 2249.5L1848.2 2250.4L1848.2 2251.2L1848.1 2252.0L1848.1 2252.8L1848.1 2253.7L1848.1 2254.5L1848.1 2255.3L1848.2 2256.1L1848.2 2256.9L1848.2 2257.8L1848.2 2258.6L1848.3 2259.4L1848.3 2260.2L1848.4 2261.1L1848.5 2261.9L1848.5 2262.7L1848.6 2263.5L1848.7 2264.3L1848.8 2265.2L1849.0 2266.0L1849.1 2266.8L1849.2 2267.6L1849.4 2268.5L1849.5 2269.3L1849.7 2270.1L1849.9 2270.9L1850.1 2271.7L1850.3 2272.6L1850.5 2273.4L1850.8 2274.2L1851.0 2275.0L1851.3 2275.8L1851.5 2276.7L1851.8 2277.5L1852.1 2278.3L1852.4 2279.1L1852.7 2280.0L1853.1 2280.8L1853.4 2281.6L1853.7 2282.4L1854.1 2283.2L1854.5 2284.1L1854.8 2284.9L1855.2 2285.7L1855.6 2286.5L1855.9 2287.4L1856.3 2288.2L1856.7 2289.0L1857.1 2289.8L1857.4 2290.6L1857.8 2291.5L1858.2 2292.3L1858.5 2293.1L1858.9 2293.9L1859.2 2294.8L1859.5 2295.6L1859.8 2296.4L1860.1 2297.2L1860.4 2298.0L1860.7 2298.9L1861.0 2299.7L1861.2 2300.5L1861.4 2301.3L1861.6 2302.2L1861.8 2303.0L1861.9 2303.8L1862.1 2304.6L1862.2 2305.4L1862.2 2306.3L1862.3 2307.1L1862.3 2307.9L1862.3 2308.7L1862.3 2309.5L1862.2 2310.4L1862.2 2311.2L1862.1 2312.0L1861.9 2312.8L1861.8 2313.7L1861.6 2314.5L1861.4 2315.3L1861.2 2316.1L1860.9 2316.9L1860.6 2317.8L1860.3 2318.6L1860.0 2319.4L1859.7 2320.2L1859.4 2321.1Z" fill="#FB61D7"/>
</g>
<g id="dots-b" stroke="#000" stroke-width="3.3">
<ellipse cx="325.8" cy="2312.7" rx="9.4" ry="9.15" fill="#F8766D"/>
<ellipse cx="340.6" cy="2312.7" rx="9.4" ry="9.15" fill="#F8766D"/>
<ellipse cx="355.4" cy="2312.7" rx="9.4" ry="9.15" fill="#F8766D"/>
<ellipse cx="370.1" cy="2312.7" rx="9.4" ry="9.15" fill="#F8766D"/>
<ellipse cx="384.9" cy="2312.7" rx="9.4" ry="9.15" fill="#F8766D"/>
<ellipse cx="347.3" cy="2298.1" rx="9.4" ry="9.15" fill="#F8766D"/>
<ellipse cx="363.0" cy="2298.1" rx="9.4" ry="9.15" fill="#F8766D"/>
<ellipse cx="355.3" cy="2274.2" rx="9.4" ry="9.15" fill="#F8766D"/>
<ellipse cx="355.1" cy="2154.6" rx="9.4" ry="9.15" fill="#F8766D"/>
<ellipse cx="355.1" cy="2095.9" rx="9.4" ry="9.15" fill="#F8766D"/>
<ellipse cx="604.3" cy="2117.1" rx="9.4" ry="9.15" fill="#C49A00"/>
<ellipse cx="596.4" cy="2076.9" rx="9.4" ry="9.15" fill="#C49A00"/>
<ellipse cx="612.3" cy="2076.9" rx="9.4" ry="9.15" fill="#C49A00"/>
<ellipse cx="604.0" cy="2003.8" rx="9.4" ry="9.15" fill="#C49A00"/>
<ellipse cx="604.0" cy="1959.4" rx="9.4" ry="9.15" fill="#C49A00"/>
<ellipse cx="596.6" cy="1849.4" rx="9.4" ry="9.15" fill="#C49A00"/>
<ellipse cx="612.1" cy="1849.4" rx="9.4" ry="9.15" fill="#C49A00"/>
<ellipse cx="845.4" cy="2342.1" rx="9.4" ry="9.15" fill="#53B400"/>
<ellipse cx="860.9" cy="2342.1" rx="9.4" ry="9.15" fill="#53B400"/>
<ellipse cx="838.2" cy="2313.3" rx="9.4" ry="9.15" fill="#53B400"/>
<ellipse cx="853.5" cy="2313.3" rx="9.4" ry="9.15" fill="#53B400"/>
<ellipse cx="868.9" cy="2313.3" rx="9.4" ry="9.15" fill="#53B400"/>
<ellipse cx="853.2" cy="2272.2" rx="9.4" ry="9.15" fill="#53B400"/>
<ellipse cx="1087.3" cy="2311.8" rx="9.4" ry="9.15" fill="#00C094"/>
<ellipse cx="1102.2" cy="2311.8" rx="9.4" ry="9.15" fill="#00C094"/>
<ellipse cx="1117.2" cy="2311.8" rx="9.4" ry="9.15" fill="#00C094"/>
<ellipse cx="1094.7" cy="2287.2" rx="9.4" ry="9.15" fill="#00C094"/>
<ellipse cx="1109.7" cy="2287.2" rx="9.4" ry="9.15" fill="#00C094"/>
<ellipse cx="1079.9" cy="2266.4" rx="9.4" ry="9.15" fill="#00C094"/>
<ellipse cx="1094.9" cy="2266.4" rx="9.4" ry="9.15" fill="#00C094"/>
<ellipse cx="1109.9" cy="2266.4" rx="9.4" ry="9.15" fill="#00C094"/>
<ellipse cx="1125.0" cy="2266.4" rx="9.4" ry="9.15" fill="#00C094"/>
<ellipse cx="1102.3" cy="2255.8" rx="9.4" ry="9.15" fill="#00C094"/>
<ellipse cx="1094.7" cy="2223.6" rx="9.4" ry="9.15" fill="#00C094"/>
<ellipse cx="1109.7" cy="2223.6" rx="9.4" ry="9.15" fill="#00C094"/>
<ellipse cx="1102.1" cy="1995.8" rx="9.4" ry="9.15" fill="#00C094"/>
<ellipse cx="1102.1" cy="1715.6" rx="9.4" ry="9.15" fill="#00C094"/>
<ellipse cx="1284.3" cy="2341.7" rx="9.4" ry="9.15" fill="#00B6EB"/>
<ellipse cx="1299.2" cy="2341.7" rx="9.4" ry="9.15" fill="#00B6EB"/>
<ellipse cx="1314.0" cy="2341.7" rx="9.4" ry="9.15" fill="#00B6EB"/>
<ellipse cx="1328.9" cy="2341.7" rx="9.4" ry="9.15" fill="#00B6EB"/>
<ellipse cx="1343.7" cy="2341.7" rx="9.4" ry="9.15" fill="#00B6EB"/>
<ellipse cx="1358.6" cy="2341.7" rx="9.4" ry="9.15" fill="#00B6EB"/>
<ellipse cx="1373.4" cy="2341.7" rx="9.4" ry="9.15" fill="#00B6EB"/>
<ellipse cx="1388.3" cy="2341.7" rx="9.4" ry="9.15" fill="#00B6EB"/>
<ellipse cx="1403.1" cy="2341.7" rx="9.4" ry="9.15" fill="#00B6EB"/>
<ellipse cx="1418.0" cy="2341.7" rx="9.4" ry="9.15" fill="#00B6EB"/>
<ellipse cx="1343.8" cy="2277.1" rx="9.4" ry="9.15" fill="#00B6EB"/>
<ellipse cx="1358.2" cy="2277.1" rx="9.4" ry="9.15" fill="#00B6EB"/>
<ellipse cx="1592.8" cy="2294.1" rx="9.4" ry="9.15" fill="#A58AFF"/>
<ellipse cx="1608.4" cy="2294.1" rx="9.4" ry="9.15" fill="#A58AFF"/>
<ellipse cx="1600.6" cy="2146.0" rx="9.4" ry="9.15" fill="#A58AFF"/>
<ellipse cx="1592.6" cy="1456.6" rx="9.4" ry="9.15" fill="#A58AFF"/>
<ellipse cx="1608.5" cy="1456.6" rx="9.4" ry="9.15" fill="#A58AFF"/>
<ellipse cx="1811.8" cy="2313.8" rx="9.4" ry="9.15" fill="#FB61D7"/>
<ellipse cx="1826.9" cy="2313.8" rx="9.4" ry="9.15" fill="#FB61D7"/>
<ellipse cx="1842.0" cy="2313.8" rx="9.4" ry="9.15" fill="#FB61D7"/>
<ellipse cx="1857.0" cy="2313.8" rx="9.4" ry="9.15" fill="#FB61D7"/>
<ellipse cx="1872.1" cy="2313.8" rx="9.4" ry="9.15" fill="#FB61D7"/>
<ellipse cx="1887.2" cy="2313.8" rx="9.4" ry="9.15" fill="#FB61D7"/>
<ellipse cx="1834.4" cy="2295.2" rx="9.4" ry="9.15" fill="#FB61D7"/>
<ellipse cx="1849.5" cy="2295.2" rx="9.4" ry="9.15" fill="#FB61D7"/>
<ellipse cx="1864.5" cy="2295.2" rx="9.4" ry="9.15" fill="#FB61D7"/>
<ellipse cx="1849.7" cy="2223.4" rx="9.4" ry="9.15" fill="#FB61D7"/>
<ellipse cx="1849.7" cy="2192.2" rx="9.4" ry="9.15" fill="#FB61D7"/>
<ellipse cx="1849.7" cy="2108.2" rx="9.4" ry="9.15" fill="#FB61D7"/>
</g>
<g id="axes" fill="#000">
<rect x="202.5" y="66.5" width="1792" height="3.1"/>
<rect x="202.5" y="66.5" width="6.1" height="1039.2"/>
<rect x="1987.2" y="66.5" width="7.1" height="1039.2"/>
<rect x="202.5" y="1099" width="1792" height="6.7"/>
<rect x="202.1" y="1402.2" width="1798.3" height="3.2"/>
<rect x="202.1" y="1402.2" width="6.5" height="997.9"/>
<rect x="1993.7" y="1402.2" width="6.7" height="997.9"/>
<rect x="202.1" y="2393" width="1798.3" height="7.1"/>
<rect x="191.6" y="1053.50" width="11.5" height="3.8"/>
<rect x="191.6" y="817.98" width="11.5" height="3.8"/>
<rect x="191.6" y="582.45" width="11.5" height="3.8"/>
<rect x="191.6" y="346.93" width="11.5" height="3.8"/>
<rect x="191.6" y="111.40" width="11.5" height="3.8"/>
<rect x="190.6" y="2345.20" width="12" height="4"/>
<rect x="190.6" y="2158.46" width="12" height="4"/>
<rect x="190.6" y="1971.72" width="12" height="4"/>
<rect x="190.6" y="1784.98" width="12" height="4"/>
<rect x="190.6" y="1598.24" width="12" height="4"/>
<rect x="190.6" y="1411.50" width="12" height="4"/>
</g>
<g id="xticks" fill="#333">
<rect x="351.50" y="1105" width="3.6" height="9"/>
<rect x="351.20" y="2399" width="4.2" height="9.8" fill="#1a1a1a"/>
<rect x="599.55" y="1105" width="3.6" height="9"/>
<rect x="600.25" y="2399" width="4.2" height="9.8" fill="#1a1a1a"/>
<rect x="847.60" y="1105" width="3.6" height="9"/>
<rect x="849.30" y="2399" width="4.2" height="9.8" fill="#1a1a1a"/>
<rect x="1095.65" y="1105" width="3.6" height="9"/>
<rect x="1098.35" y="2399" width="4.2" height="9.8" fill="#1a1a1a"/>
<rect x="1343.70" y="1105" width="3.6" height="9"/>
<rect x="1347.40" y="2399" width="4.2" height="9.8" fill="#1a1a1a"/>
<rect x="1591.75" y="1105" width="3.6" height="9"/>
<rect x="1596.45" y="2399" width="4.2" height="9.8" fill="#1a1a1a"/>
<rect x="1839.80" y="1105" width="3.6" height="9"/>
<rect x="1845.50" y="2399" width="4.2" height="9.8" fill="#1a1a1a"/>
</g>
<g id="text" font-family="'Liberation Sans', Arial, Helvetica, sans-serif" fill="#000" stroke="#000" stroke-width="0.7">
<text x="29" y="43.3" font-size="73.5" font-weight="bold" stroke="none">a</text>
<text x="13.5" y="1369.8" font-size="73.5" font-weight="bold" stroke="none">b</text>
<text transform="translate(181.3,1072.80) scale(0.985,0.88)" font-size="56" text-anchor="end">0.0</text>
<text transform="translate(181.3,837.28) scale(0.985,0.88)" font-size="56" text-anchor="end">0.5</text>
<text transform="translate(181.3,601.75) scale(0.985,0.88)" font-size="56" text-anchor="end">1.0</text>
<text transform="translate(181.3,366.23) scale(0.985,0.88)" font-size="56" text-anchor="end">1.5</text>
<text transform="translate(181.3,130.70) scale(0.985,0.88)" font-size="56" text-anchor="end">2.0</text>
<text transform="translate(180.6,2367.50) scale(0.99,1.03)" font-size="56" text-anchor="end">0</text>
<text transform="translate(180.6,2180.76) scale(0.99,1.03)" font-size="56" text-anchor="end">10</text>
<text transform="translate(180.6,1994.02) scale(0.99,1.03)" font-size="56" text-anchor="end">20</text>
<text transform="translate(180.6,1807.28) scale(0.99,1.03)" font-size="56" text-anchor="end">30</text>
<text transform="translate(180.6,1620.54) scale(0.99,1.03)" font-size="56" text-anchor="end">40</text>
<text transform="translate(180.6,1433.80) scale(0.99,1.03)" font-size="56" text-anchor="end">50</text>
<text transform="translate(60.0,583.6) rotate(-90) scale(0.8655,1)" font-size="57" text-anchor="middle">Canopy cover category</text>
<g transform="translate(58.7,2328.50) rotate(-90)" font-size="56">
<text x="0" y="0">Dissolved organic carbon</text>
<text transform="translate(643.60 0.40) scale(1.1 1)" font-family="'Liberation Serif', 'DejaVu Serif', serif" font-size="70" stroke="none">(</text>
<text x="667.00" y="0">mg</text>
<text x="759.50" y="0">L</text>
<text x="788.50" y="-25.30" font-size="39">−</text>
<text x="814.50" y="-29.00" font-size="39">1</text>
<text transform="translate(834.30 0.40) scale(1.1 1)" font-family="'Liberation Serif', 'DejaVu Serif', serif" font-size="70" stroke="none">)</text>
</g>
<text x="1101.2" y="2701" font-size="61.5" text-anchor="middle">Biome</text>
</g>
<g id="xlabels" font-family="'Liberation Sans', Arial, Helvetica, sans-serif" fill="#4d4d4d" stroke="#4d4d4d" stroke-width="0.4" font-size="41.3" text-anchor="middle">
<text x="353.30" y="2448.60">Tundra</text>
<text x="602.35" y="2448.60">Boreal</text>
<text x="602.35" y="2492.80">Forest/</text>
<text x="602.35" y="2537.00">Taiga</text>
<text x="851.40" y="2448.60">Temperate</text>
<text x="851.40" y="2492.80">Conifer</text>
<text x="851.40" y="2537.00">Forests</text>
<text x="1100.45" y="2448.60">Temperate</text>
<text x="1100.45" y="2492.80">Broadleaf</text>
<text x="1100.45" y="2537.00">&amp; Mixed</text>
<text x="1100.45" y="2581.20">Forests</text>
<text x="1349.50" y="2448.60">Montane</text>
<text x="1349.50" y="2492.80">Grasslands</text>
<text x="1349.50" y="2537.00">&amp;</text>
<text x="1349.50" y="2581.20">Shrublands</text>
<text x="1598.55" y="2448.60">Tropical &amp;</text>
<text x="1598.55" y="2492.80">Subtropical</text>
<text x="1598.55" y="2537.00">Grasslands,</text>
<text x="1598.55" y="2581.20">Savannas &amp;</text>
<text x="1598.55" y="2625.40">Shrublands</text>
<text x="1847.60" y="2448.60">Tropical &amp;</text>
<text x="1847.60" y="2492.80">Subtropical</text>
<text x="1847.60" y="2537.00">Moist</text>
<text x="1847.60" y="2581.20">Broadleaf</text>
<text x="1847.60" y="2625.40">Forests</text>
</g>
</svg></body></html>
